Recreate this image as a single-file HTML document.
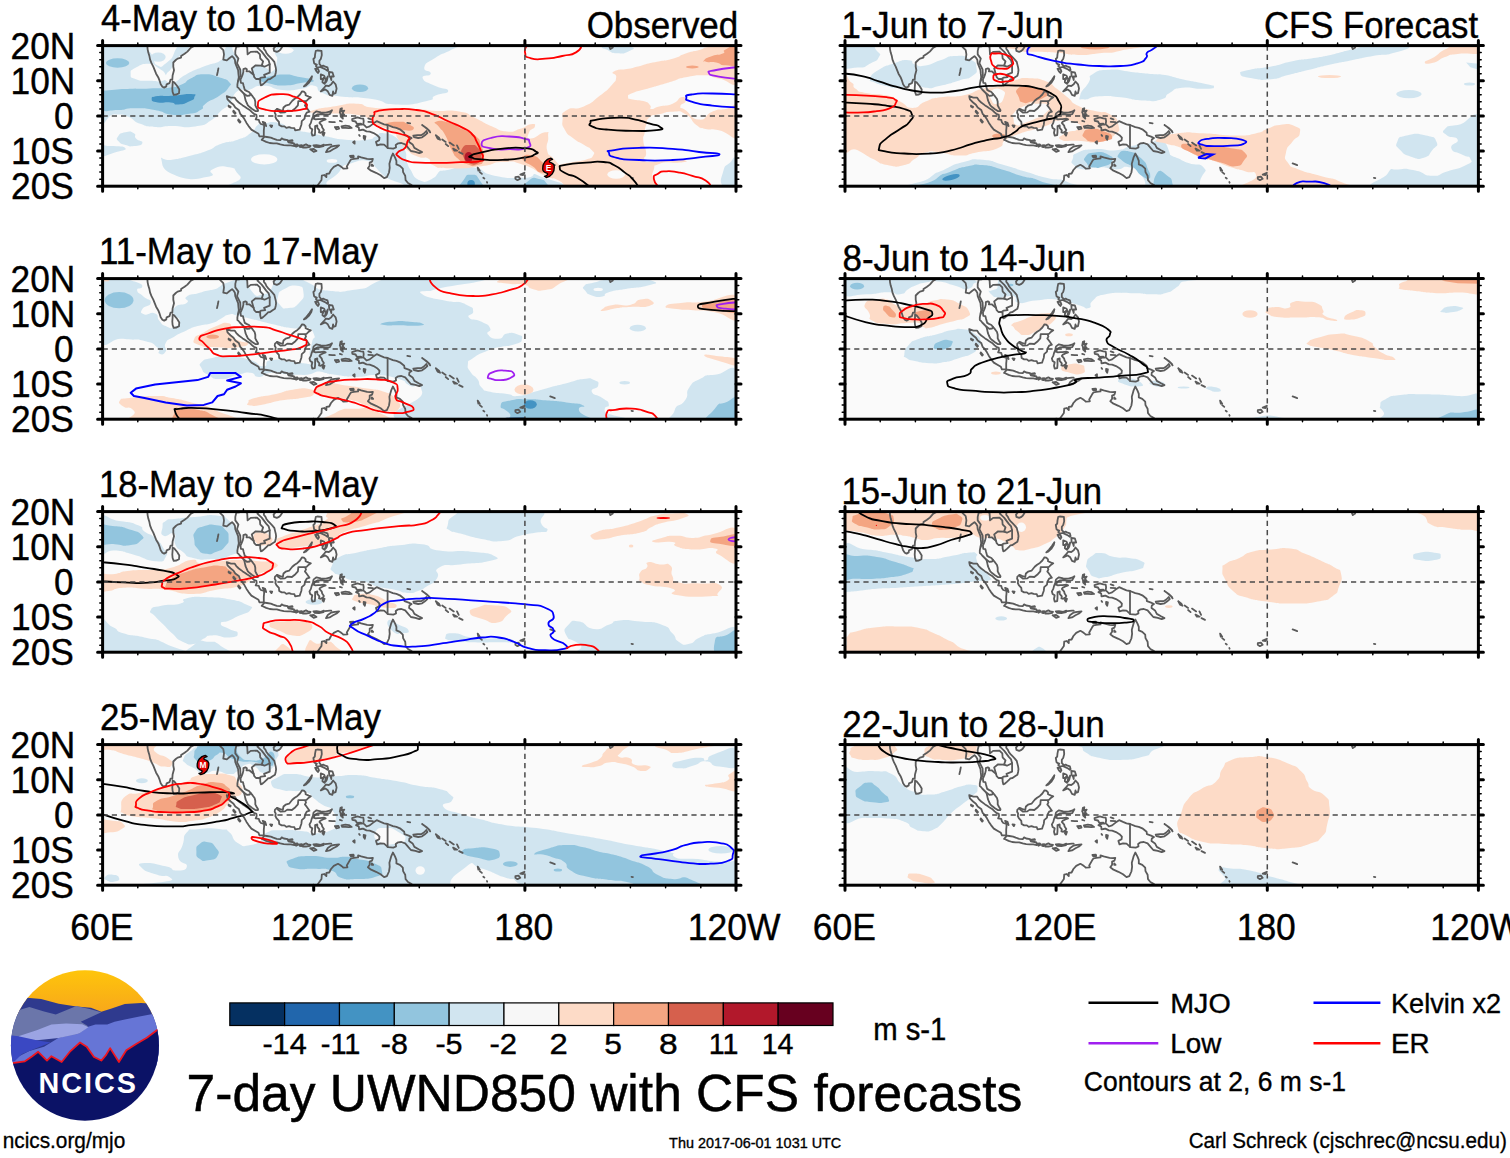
<!DOCTYPE html><html><head><meta charset="utf-8"><title>MJO UWND850</title>
<style>html,body{margin:0;padding:0;background:#fff}svg{display:block}text{font-family:"Liberation Sans",sans-serif;fill:#000}</style></head><body>
<svg width="1510" height="1158" viewBox="0 0 1510 1158">
<defs>
<clipPath id="pc"><rect x="0" y="0" width="633.4" height="140.6"/></clipPath>
<g id="coast" fill="none" stroke="#5a5a5a" stroke-width="1.8" stroke-linejoin="round" stroke-linecap="round">
<polyline points="44.7,-0.7 45.0,3.5 45.7,7.0 46.8,10.5 47.5,14.1 48.9,17.6 50.7,21.1 52.1,24.6 53.5,28.1 55.6,31.6 57.0,35.1 58.1,38.7 59.8,41.1 61.6,42.0 63.7,40.8 64.0,38.7 66.9,37.6 67.9,34.1 69.7,34.1 70.0,29.9 71.4,24.6 70.7,21.1 70.7,16.9 73.2,14.4 75.0,13.0 78.5,12.0 78.5,10.5 82.0,8.1 84.8,6.0 88.3,2.1 92.9,-0.4"/>
<polyline points="70.0,35.9 71.4,36.6 74.6,40.4 76.7,43.9 76.4,47.5 73.9,48.9 71.1,49.2 70.0,46.4 69.7,42.9 70.0,39.0 70.0,35.9"/>
<polyline points="115.8,22.8 115.1,26.4 114.4,29.5"/>
<polyline points="115.8,-0.7 118.2,2.1 120.7,4.6 121.4,8.8 120.7,14.1 124.2,14.8 126.7,12.7 129.5,10.5 130.9,12.0 132.3,14.1 132.7,17.6 134.1,21.1 135.5,24.6 135.8,28.1 136.2,31.6 135.5,35.1 134.8,38.7 134.8,41.5 135.8,42.2 137.2,43.9 139.7,46.4 141.5,48.2 142.2,51.3 142.9,54.5 143.9,56.9 145.3,59.8 147.1,61.5 149.6,63.3 152.7,65.4 155.2,65.6 155.5,64.7 153.8,61.9 152.7,59.8 152.7,56.2 152.0,53.4 149.9,50.6 148.1,48.5 146.4,46.4 143.9,45.3 142.2,44.3 141.1,40.4 140.4,37.6 138.3,37.3 137.9,34.1 139.0,31.6 140.1,28.8 140.8,26.0 140.8,23.6 142.9,22.8 144.3,23.6 143.9,25.7 146.7,25.7 148.8,27.4 151.0,29.2 151.7,31.6 153.4,33.4 155.9,33.4 157.6,33.7 157.6,36.6 158.3,39.7 159.4,39.4 161.9,37.3 164.3,35.1 165.4,33.7 167.5,33.4 170.0,31.6 172.4,30.2 173.1,27.4 173.5,24.6 173.1,21.8 172.4,19.0 171.7,16.2 169.6,13.7 167.5,11.6 165.7,9.8 164.0,7.7 162.9,5.3 161.2,3.2 161.5,0.7 162.9,-0.7"/>
<polyline points="135.8,35.1 137.9,29.9 137.6,23.9 134.4,17.6 135.8,13.0 132.7,8.8 132.7,5.3 133.7,1.1 136.9,0.7 139.0,-0.7"/>
<polyline points="151.0,29.2 149.2,22.8 153.1,19.7 159.1,20.0 160.5,15.8 157.6,12.7 157.3,8.8 154.5,6.0 148.1,6.3 145.0,8.8 144.6,1.8 142.5,-0.7"/>
<polyline points="156.2,33.7 158.7,32.0 162.6,31.6 161.5,29.2 167.1,27.1 167.1,18.6 166.1,14.8 163.6,12.0 159.1,6.0 154.8,2.1 156.9,-0.7"/>
<polyline points="159.1,20.0 161.9,21.1 167.1,18.6"/>
<polyline points="141.1,47.8 144.6,50.3 147.1,49.9 148.1,48.5"/>
<polyline points="171.4,2.5 173.1,0.4 175.9,-0.4 179.1,-0.4 179.5,1.4 177.7,4.2 175.9,5.6 174.2,6.3 171.4,5.3 171.0,2.8 171.4,2.5"/>
<polyline points="124.2,50.6 128.4,52.0 132.0,52.0 133.7,54.5 136.2,56.9 140.1,59.8 142.2,61.2 144.3,62.6 147.1,64.3 149.6,66.8 151.3,68.2 153.8,69.2 154.1,71.4 153.1,73.8 156.2,74.2 156.9,76.6 158.3,78.4 161.5,79.4 161.5,81.9 161.2,85.1 161.2,90.7 159.4,90.7 156.9,90.7 155.9,88.2 152.4,86.1 148.8,84.0 146.0,80.5 143.9,77.3 141.8,73.5 139.7,70.3 137.6,68.2 136.2,64.3 132.7,61.9 130.9,59.1 128.1,56.9 124.9,53.8 124.2,50.6"/>
<polyline points="126.0,60.1 128.1,61.2 127.7,61.9 126.0,60.8 126.0,60.1"/>
<polyline points="130.9,65.0 133.0,67.5 132.3,68.2 130.6,66.1 130.9,65.0"/>
<polyline points="135.8,73.8 137.9,76.3 137.2,77.0 135.5,74.9 135.8,73.8"/>
<polyline points="160.1,76.3 162.6,77.3 163.6,80.5 161.5,79.1 160.1,76.3"/>
<polyline points="167.5,79.8 169.6,80.1 168.9,81.5 167.5,79.8"/>
<polyline points="159.1,94.2 161.9,91.0 164.3,91.4 168.2,92.1 170.7,93.1 174.2,94.2 177.7,94.6 179.1,92.8 181.2,93.9 185.1,94.6 185.8,96.7 189.7,97.4 191.4,97.7 191.8,100.5 188.3,99.8 184.7,99.8 181.2,99.5 177.7,98.8 174.2,97.7 170.7,97.7 167.1,97.4 163.6,96.3 160.1,94.6 159.1,94.2"/>
<polyline points="185.4,95.3 189.7,94.6 190.0,95.3 185.8,95.6"/>
<polyline points="192.1,99.1 194.9,98.8 195.7,100.2 193.5,101.2 192.1,99.1"/>
<polyline points="197.1,99.8 199.2,99.5 198.8,101.6 197.1,101.2 197.1,99.8"/>
<polyline points="199.9,100.2 203.4,98.8 205.2,99.8 208.0,100.2 207.3,101.2 203.4,101.9 200.2,101.9 199.9,100.2"/>
<polyline points="210.8,99.8 213.9,99.5 218.2,100.2 221.3,99.1 221.0,100.5 216.4,101.6 212.2,101.2 210.8,99.8"/>
<polyline points="222.4,99.5 227.0,99.1 228.7,99.1"/>
<polyline points="207.6,103.7 211.1,103.3 213.9,105.4 211.1,106.2 207.6,103.7"/>
<polyline points="223.4,106.5 225.2,103.3 228.7,100.9 232.2,100.2 236.5,99.8 234.0,101.9 230.5,103.7 227.0,105.8 223.4,106.5"/>
<polyline points="250.5,96.7 252.0,95.6 252.0,98.1 250.5,96.7"/>
<polyline points="261.1,90.3 262.9,90.7 262.2,94.2 261.1,92.4 261.1,90.3"/>
<polyline points="256.5,89.3 257.2,90.3"/>
<polyline points="172.4,65.0 174.5,63.3 177.0,64.3 180.2,65.4 180.9,61.9 183.0,60.1 186.5,59.1 189.7,55.2 192.1,53.1 194.9,51.3 197.4,48.9 199.5,45.7 201.3,46.0 203.0,47.8 203.0,49.6 206.2,51.0 208.3,51.7 206.2,53.1 204.4,54.8 202.7,55.9 203.4,58.0 202.3,59.8 204.1,62.2 206.9,66.1 204.1,67.1 202.3,70.3 202.0,73.1 199.2,75.6 198.8,79.1 197.8,81.9 197.1,84.0 192.5,84.7 191.8,82.6 188.6,82.3 186.5,81.5 183.7,82.3 181.9,80.8 179.1,80.8 176.6,79.4 176.3,76.3 173.8,73.5 172.8,71.4 173.1,68.9 172.1,67.1 172.4,65.0"/>
<polyline points="174.5,63.3 174.9,64.7 178.1,67.1 182.3,66.8 184.7,65.0 189.3,65.4 192.8,62.6 195.3,59.8 195.7,55.5 202.3,55.5"/>
<polyline points="211.1,67.8 213.9,65.7 218.2,66.8 223.4,67.1 227.0,66.1 229.4,64.7 227.3,68.5 223.4,69.2 218.2,68.5 214.7,68.9 212.2,70.3 211.1,73.1 212.9,73.8 215.4,73.5 217.5,73.5 221.3,73.1 223.1,73.8 220.3,74.9 217.5,76.3 216.8,77.3 219.2,80.1 219.6,81.9 221.3,84.4 220.3,85.8 218.2,87.2 216.4,86.8 216.8,84.7 214.7,82.3 214.7,79.8 212.5,80.5 212.5,83.3 212.5,86.5 212.2,89.6 209.7,90.0 209.0,87.2 209.7,83.7 207.6,82.3 206.9,79.8 208.3,77.3 209.0,74.5 210.4,71.0 210.8,68.5 211.1,67.8"/>
<polyline points="220.3,86.5 222.0,87.2 221.0,90.0 219.9,88.6 220.3,86.5"/>
<polyline points="237.2,66.8 237.9,63.3 239.3,62.6 238.9,65.7 241.7,65.0 240.0,67.5 241.7,69.2 239.3,68.9 240.3,73.1 238.2,71.0 237.9,68.2 237.2,66.8"/>
<polyline points="232.2,81.5 235.8,81.2 236.5,83.0 233.7,83.7 232.2,81.5"/>
<polyline points="238.9,80.8 242.8,80.1 246.3,80.5 249.1,82.3 246.3,82.6 242.8,82.3 239.6,82.3 238.9,80.8"/>
<polyline points="226.6,76.3 229.8,76.6 232.2,76.6"/>
<polyline points="237.2,75.2 239.3,75.9"/>
<polyline points="213.2,5.3 214.7,4.9 218.9,5.3 219.2,9.5 218.2,13.4 216.8,15.1 216.8,18.3 218.9,20.7 220.6,20.0 222.7,21.1 224.9,21.8 225.6,24.6 224.9,25.3 223.1,23.9 220.3,22.5 217.5,21.4 214.7,22.1 213.2,20.4 214.3,19.0 212.9,18.6 211.5,17.6 210.8,13.4 212.2,12.0 212.5,8.8 213.2,5.3"/>
<polyline points="212.5,23.2 215.4,23.2 216.4,25.7 215.4,27.4 213.9,25.7 212.5,23.2"/>
<polyline points="201.3,40.8 204.1,38.0 206.9,34.4 209.4,30.6 208.7,33.4 206.2,37.3 203.0,40.1 201.3,40.8"/>
<polyline points="218.2,28.8 221.3,29.9 222.0,30.9 220.3,33.4 218.2,33.4 218.2,28.8"/>
<polyline points="219.9,35.1 222.0,32.0 223.4,33.7 222.0,38.3 219.9,36.6 219.9,35.1"/>
<polyline points="223.1,35.1 225.2,30.9 224.2,35.1 223.1,36.9"/>
<polyline points="226.3,26.4 229.8,26.7 231.2,30.9 228.7,30.9 228.7,34.4 228.0,32.0 226.6,30.2 226.3,26.4"/>
<polyline points="218.2,45.7 221.0,42.9 223.1,40.1 226.3,40.4 228.7,38.7 230.5,35.9 233.0,38.7 234.0,42.9 233.0,47.5 230.8,48.2 230.5,45.7 229.8,50.3 227.0,49.2 225.2,45.7 222.7,43.9 219.9,45.0 218.2,45.7"/>
<polyline points="249.5,73.5 254.8,71.7 258.3,72.8 260.7,73.1 261.1,75.6 260.7,78.7 262.2,80.1 263.9,81.9 267.1,80.8 270.6,78.0 274.1,75.6 278.0,77.3 281.5,78.7 285.0,79.4 290.3,81.5 293.8,82.3 297.3,83.7 301.6,87.2 301.9,89.6 306.1,91.0 309.0,92.4 306.8,93.9 306.5,96.3 310.0,98.8 311.8,102.3 316.0,104.7 319.5,106.5 316.7,107.6 312.8,106.2 308.3,105.4 305.8,102.6 302.6,98.8 298.8,97.4 295.6,97.7 293.1,99.5 293.5,101.9 290.7,103.0 285.4,102.6 281.5,99.1 278.0,98.8 274.5,99.8 273.4,96.3 276.6,94.6 276.9,92.1 274.5,89.6 271.0,87.5 267.1,86.1 263.9,85.8 260.4,84.0 258.3,84.4 256.5,84.7 256.2,81.9 253.4,80.5 257.2,79.1 259.3,79.1 258.3,78.0 254.4,78.4 253.0,75.9 249.8,75.2 249.5,73.5"/>
<polyline points="285.0,79.4 285.0,102.3"/>
<polyline points="265.7,72.8 268.5,73.8"/>
<polyline points="265.7,76.3 270.3,76.6"/>
<polyline points="213.9,141.3 216.4,137.8 218.9,134.3 219.2,130.1 221.7,129.4 223.8,131.5 223.8,128.3 226.6,127.9 228.4,124.4 231.2,121.3 235.4,119.2 237.9,120.6 240.0,122.3 240.7,123.0 244.9,122.7 244.2,120.9 247.0,116.0 248.4,113.9 251.2,113.2 255.5,112.8 255.5,110.7 258.6,111.8 264.6,113.2 267.4,113.5 270.3,113.2 269.5,116.0 267.1,117.0 267.1,120.2 265.3,122.7 268.5,125.1 273.4,127.2 278.0,129.7 281.5,132.5 284.3,131.5 286.4,126.9 287.1,122.3 286.8,118.1 287.8,114.6 288.5,112.1 290.3,107.9 292.4,111.8 293.8,115.3 293.8,118.8 297.3,120.2 300.2,123.0 300.5,126.5 302.6,130.1 303.0,134.6 305.4,137.4 309.0,139.5 311.1,141.3"/>
<polyline points="247.4,110.4 250.9,110.0 251.2,111.4 248.4,111.8 247.4,110.4"/>
<polyline points="269.2,118.8 270.6,120.2 269.2,120.2 269.2,118.8"/>
<polyline points="310.7,90.0 314.9,89.6 318.5,89.6 321.3,87.9 323.7,85.4 324.8,87.5 322.0,90.0 319.5,91.7 315.6,92.4 311.4,91.4 310.7,90.0"/>
<polyline points="319.5,79.4 323.7,82.3 326.9,85.4 327.6,86.8 325.8,84.4 322.3,81.5 319.5,79.4"/>
<polyline points="304.7,77.3 307.6,77.7"/>
<polyline points="333.2,89.6 336.4,92.1 337.5,94.2 335.0,93.1 333.2,89.6"/>
<polyline points="339.6,93.9 343.1,96.3"/>
<polyline points="343.1,98.4 345.6,100.5"/>
<polyline points="347.0,97.0 351.2,99.8"/>
<polyline points="350.5,103.0 354.7,105.1 351.9,105.1 350.5,103.0"/>
<polyline points="354.4,99.8 356.1,103.3"/>
<polyline points="356.5,106.5 360.0,108.3"/>
<polyline points="375.1,122.0 377.2,125.1 375.8,125.1 375.1,122.0"/>
<polyline points="377.2,126.5 379.3,128.3"/>
<polyline points="380.7,132.2 381.8,132.9"/>
<polyline points="384.3,136.4 384.6,137.1"/>
<polyline points="412.8,131.5 415.9,131.1 417.7,133.2 414.9,134.6 412.8,133.2 412.8,131.5"/>
<polyline points="417.7,129.0 421.9,127.2 420.5,129.4 417.7,129.0"/>
<polyline points="447.6,117.8 449.7,118.5 452.2,119.5"/>
<polyline points="506.7,0.7 507.8,3.5 510.2,1.8 508.5,-0.7"/>
<polyline points="528.9,132.2 530.3,132.5"/>
</g>
<g id="frame">
<line x1="0" y1="70.3" x2="633.4" y2="70.3" stroke="#4a4a4a" stroke-width="1.5" stroke-dasharray="5.2,4"/>
<line x1="422.3" y1="0" x2="422.3" y2="140.6" stroke="#4a4a4a" stroke-width="1.5" stroke-dasharray="5.2,4"/>
<rect x="0" y="0" width="633.4" height="140.6" fill="none" stroke="#000" stroke-width="3"/>
<path d="M0.0,-5V0 M0.0,140.6V145.6 M211.1,-5V0 M211.1,140.6V145.6 M422.3,-5V0 M422.3,140.6V145.6 M633.4,-5V0 M633.4,140.6V145.6" stroke="#000" stroke-width="3" stroke-linecap="round" fill="none"/>
<path d="M35.2,-2.6V0 M35.2,140.6V143.2 M70.4,-2.6V0 M70.4,140.6V143.2 M105.6,-2.6V0 M105.6,140.6V143.2 M140.8,-2.6V0 M140.8,140.6V143.2 M175.9,-2.6V0 M175.9,140.6V143.2 M246.3,-2.6V0 M246.3,140.6V143.2 M281.5,-2.6V0 M281.5,140.6V143.2 M316.7,-2.6V0 M316.7,140.6V143.2 M351.9,-2.6V0 M351.9,140.6V143.2 M387.1,-2.6V0 M387.1,140.6V143.2 M457.5,-2.6V0 M457.5,140.6V143.2 M492.6,-2.6V0 M492.6,140.6V143.2 M527.8,-2.6V0 M527.8,140.6V143.2 M563.0,-2.6V0 M563.0,140.6V143.2 M598.2,-2.6V0 M598.2,140.6V143.2" stroke="#000" stroke-width="1.5" stroke-linecap="round" fill="none"/>
<path d="M-5,0.0H0 M633.4,0.0H638.4 M-5,35.1H0 M633.4,35.1H638.4 M-5,70.3H0 M633.4,70.3H638.4 M-5,105.4H0 M633.4,105.4H638.4 M-5,140.6H0 M633.4,140.6H638.4" stroke="#000" stroke-width="3" stroke-linecap="round" fill="none"/>
<path d="M-2.8,7.0H0 M633.4,7.0H636.1999999999999 M-2.8,14.1H0 M633.4,14.1H636.1999999999999 M-2.8,21.1H0 M633.4,21.1H636.1999999999999 M-2.8,28.1H0 M633.4,28.1H636.1999999999999 M-2.8,42.2H0 M633.4,42.2H636.1999999999999 M-2.8,49.2H0 M633.4,49.2H636.1999999999999 M-2.8,56.2H0 M633.4,56.2H636.1999999999999 M-2.8,63.3H0 M633.4,63.3H636.1999999999999 M-2.8,77.3H0 M633.4,77.3H636.1999999999999 M-2.8,84.4H0 M633.4,84.4H636.1999999999999 M-2.8,91.4H0 M633.4,91.4H636.1999999999999 M-2.8,98.4H0 M633.4,98.4H636.1999999999999 M-2.8,112.5H0 M633.4,112.5H636.1999999999999 M-2.8,119.5H0 M633.4,119.5H636.1999999999999 M-2.8,126.5H0 M633.4,126.5H636.1999999999999 M-2.8,133.6H0 M633.4,133.6H636.1999999999999" stroke="#000" stroke-width="1.5" stroke-linecap="round" fill="none"/>
</g>
</defs>
<rect width="1510" height="1158" fill="#fff"/>
<g transform="translate(102.6,45.6)">
<g clip-path="url(#pc)"><rect x="0" y="0" width="633.4" height="140.6" fill="#fafafa"/>
<path d="M-4.7,-5.5C67.3,-29.9 88.5,-5.5 211.4,-5.5C334.3,-5.5 314.6,-6.9 364.0,-5.5C413.5,-4.1 365.4,-4.8 359.8,-1.3C354.1,2.3 356.0,0.6 347.0,5.1C338.1,9.5 341.3,6.7 332.9,12.1C324.4,17.5 323.4,16.1 321.8,21.4C320.3,26.7 328.8,24.2 328.2,28.0C327.6,31.7 318.6,28.5 320.1,32.6C321.7,36.8 324.4,36.2 332.9,40.5C341.3,44.7 345.6,42.2 345.6,45.4C345.6,48.5 340.3,46.6 332.9,50.0C325.4,53.5 336.6,52.8 323.3,55.7C310.0,58.7 311.0,59.7 293.0,58.9C275.0,58.1 287.8,56.1 269.3,53.4C250.8,50.7 253.9,52.8 237.5,50.9C221.0,48.9 228.6,51.1 219.9,47.5C211.2,43.9 218.5,41.5 211.4,40.1C204.4,38.7 209.3,41.8 198.7,43.2C188.1,44.7 192.3,45.4 179.6,44.3C166.9,43.2 171.9,40.1 160.6,40.1C149.3,40.1 154.2,42.5 145.7,44.3C137.2,46.1 141.5,40.8 135.1,45.4C128.8,50.0 132.3,51.4 126.7,58.1C121.0,64.8 123.8,60.2 118.2,65.5C112.5,70.8 118.2,68.8 109.7,74.0C101.2,79.1 106.2,78.8 92.7,81.0C79.3,83.1 82.9,80.2 69.4,80.3C56.0,80.5 63.1,82.1 52.5,81.4C41.9,80.7 46.8,81.7 37.6,78.2C28.5,74.7 33.4,74.0 24.9,70.8C16.5,67.6 22.1,69.7 12.2,68.7C2.3,67.6 0.9,92.3 -4.7,67.6C-10.4,42.9 -76.8,18.9 -4.7,-5.5Z" fill="#d1e5f0"/>
<path d="M28.1,28.4C28.1,24.5 27.4,25.4 33.4,22.0C39.4,18.7 38.9,18.2 46.1,18.2C53.3,18.2 49.4,18.3 55.0,22.0C60.7,25.8 61.1,25.2 63.1,29.5C65.1,33.7 66.6,32.9 61.0,34.8C55.3,36.7 55.3,35.5 46.1,35.2C36.9,34.8 39.4,36.0 33.4,33.7C27.4,31.4 28.1,32.3 28.1,28.4Z" fill="#fafafa"/>
<path d="M63.1,30.5C64.5,25.7 66.3,27.3 69.4,22.0C72.6,16.8 67.7,20.3 72.6,14.6C77.6,9.0 77.9,11.1 84.3,5.1C90.6,-0.9 80.4,-0.6 91.7,-3.4C103.0,-6.2 108.3,-6.9 118.2,-3.4C128.1,0.2 121.4,1.2 121.4,7.2C121.4,13.2 124.9,10.0 118.2,14.6C111.5,19.2 112.5,16.4 101.2,21.0C89.9,25.6 94.2,23.1 84.3,28.4C74.4,33.7 77.9,34.2 71.6,36.9C65.2,39.6 68.0,38.6 65.2,36.5C62.4,34.3 61.7,35.3 63.1,30.5Z" fill="#fafafa"/>
<path d="M135.1,-3.4C146.4,-9.7 156.7,-6.9 169.0,-3.4C181.4,0.2 170.4,0.9 172.2,7.2C174.0,13.6 175.4,9.3 174.3,15.7C173.3,22.0 172.9,24.2 169.0,26.3C165.2,28.4 168.3,24.2 162.7,22.0C157.0,19.9 157.0,18.5 152.1,19.9C147.1,21.3 152.1,24.9 147.8,26.3C143.6,27.7 143.6,27.7 139.4,24.2C135.1,20.6 136.5,24.9 135.1,15.7C133.7,6.5 123.8,3.0 135.1,-3.4Z" fill="#fafafa"/>
<ellipse cx="182.8" cy="4.7" rx="8.1" ry="3.4" fill="#fafafa"/>
<path d="M47.2,-1.3C53.5,-5.5 61.3,-4.1 69.4,-1.3C77.6,1.6 73.7,0.9 71.6,7.2C69.4,13.6 68.6,13.6 63.1,17.8C57.6,22.0 59.3,22.0 55.0,19.9C50.8,17.8 53.0,18.5 50.4,11.5C47.7,4.4 40.8,3.0 47.2,-1.3Z" fill="#fafafa"/>
<ellipse cx="55.7" cy="11.5" rx="7.4" ry="4.7" fill="#d1e5f0"/>
<path d="M-2.6,48.5C1.3,42.5 -7.6,46.3 9.0,44.5C25.6,42.7 28.1,43.8 47.2,43.0C66.3,42.3 55.7,43.5 66.3,42.2C76.9,40.8 71.6,42.2 79.0,39.0C86.4,35.8 81.1,36.1 88.5,32.6C95.9,29.2 91.7,28.9 101.2,28.6C110.8,28.3 108.6,29.1 117.1,31.8C125.6,34.5 123.8,33.2 126.7,36.7C129.5,40.1 129.0,37.7 125.8,42.2C122.6,46.6 124.7,44.7 117.1,50.0C109.5,55.3 109.3,53.3 102.9,58.1C96.6,62.9 103.9,61.0 98.0,64.4C92.2,67.9 94.9,66.9 85.3,68.5C75.8,70.0 80.5,70.4 69.4,69.1C58.3,67.8 64.8,66.6 52.1,64.4C39.3,62.3 43.5,62.7 31.3,62.7C19.1,62.7 26.7,64.4 15.4,64.4C4.1,64.4 3.4,68.0 -2.6,62.7C-8.6,57.4 -6.5,54.6 -2.6,48.5Z" fill="#92c5de"/>
<ellipse cx="15.0" cy="17.4" rx="11.7" ry="4.7" fill="#92c5de"/>
<path d="M156.1,33.7C155.6,31.3 157.7,32.5 166.5,31.0C175.3,29.4 172.9,29.0 182.4,29.0C191.9,29.1 185.6,29.2 195.1,31.2C204.6,33.1 209.9,32.9 211.0,35.0C212.1,37.1 207.8,35.9 198.3,37.5C188.7,39.1 192.5,39.6 182.4,39.9C172.3,40.1 176.7,40.2 168.0,38.2C159.2,36.1 156.6,36.1 156.1,33.7Z" fill="#92c5de"/>
<ellipse cx="257.4" cy="42.6" rx="8.1" ry="3.8" fill="#92c5de"/>
<path d="M49.1,53.4C49.1,51.3 48.5,51.5 55.2,50.4C62.0,49.4 58.3,50.9 69.4,50.2C80.5,49.6 81.1,48.0 88.5,48.5C95.9,49.0 92.2,49.3 91.7,51.7C91.2,54.1 92.3,53.3 87.0,55.7C81.7,58.1 82.1,58.6 75.8,58.9C69.4,59.3 74.8,57.5 68.0,56.8C61.1,56.1 61.5,57.9 55.2,56.8C48.9,55.7 49.1,55.5 49.1,53.4Z" fill="#4393c3"/>
<path d="M-2.6,101.5C0.9,98.3 -0.5,100.1 8.0,100.5C16.5,100.8 21.4,100.5 22.8,102.6C24.2,104.7 20.7,104.3 12.2,106.8C3.7,109.3 2.3,111.8 -2.6,110.0C-7.6,108.2 -6.2,104.7 -2.6,101.5Z" fill="#d1e5f0"/>
<path d="M15.4,90.9C17.5,87.7 17.5,87.7 22.8,86.7C28.1,85.6 27.8,85.6 31.3,87.7C34.8,89.9 30.6,89.9 33.4,93.0C36.2,96.2 40.5,94.8 39.8,97.3C39.1,99.8 36.9,99.8 31.3,100.5C25.6,101.2 27.8,100.8 22.8,99.4C17.9,98.0 18.9,99.0 16.5,96.2C14.0,93.4 13.3,94.1 15.4,90.9Z" fill="#d1e5f0"/>
<path d="M58.8,114.2C57.4,108.9 59.5,115.6 69.4,114.2C79.3,112.8 76.5,113.2 88.5,110.0C100.5,106.8 95.6,108.6 105.5,104.7C115.3,100.8 108.3,101.9 118.2,98.3C128.1,94.8 125.2,97.6 135.1,94.1C145.0,90.6 141.1,92.7 147.8,87.7C154.6,82.8 151.0,82.4 155.3,79.3C159.5,76.1 153.8,78.9 160.6,78.2C167.3,77.5 165.5,75.4 175.4,77.1C185.3,78.9 178.9,80.0 190.2,83.5C201.5,87.0 198.0,85.3 209.3,87.7C220.6,90.2 212.8,88.8 224.1,90.9C235.4,93.0 229.8,93.0 243.2,94.1C256.6,95.2 254.5,95.2 264.4,94.1C274.3,93.0 267.2,93.0 272.9,90.9C278.5,88.8 273.6,86.7 281.4,87.7C289.1,88.8 289.1,88.5 296.2,94.1C303.3,99.8 299.7,96.9 302.5,104.7C305.4,112.5 301.8,108.9 304.7,117.4C307.5,125.9 306.8,120.2 311.0,130.1C315.3,140.0 370.4,141.4 317.4,147.1C264.4,152.7 212.1,152.7 152.1,147.1C92.0,141.4 145.7,138.6 137.2,130.1C128.8,121.7 135.8,123.8 126.7,121.7C117.5,119.5 116.8,120.6 109.7,123.8C102.6,127.0 117.5,129.1 105.5,131.2C93.5,133.3 89.2,135.8 73.7,130.1C58.1,124.5 60.3,119.5 58.8,114.2Z" fill="#d1e5f0"/>
<ellipse cx="161.6" cy="113.8" rx="13.1" ry="5.1" fill="#fafafa"/>
<path d="M232.6,142.8C212.8,137.2 231.2,134.4 236.9,125.9C242.5,117.4 239.7,120.8 249.6,117.4C259.5,114.0 258.7,114.3 266.5,115.7C274.3,117.1 267.9,116.8 272.9,121.7C277.8,126.5 273.6,123.1 281.4,130.1C289.1,137.2 312.4,138.6 296.2,142.8C279.9,147.1 252.4,148.5 232.6,142.8Z" fill="#fafafa"/>
<ellipse cx="229.4" cy="115.3" rx="5.3" ry="1.9" fill="#fafafa"/>
<path d="M330.3,147.1C291.1,141.4 327.8,137.9 333.5,130.1C339.1,122.4 334.9,126.6 347.3,123.8C359.6,120.9 355.7,119.5 370.6,121.7C385.4,123.8 374.8,126.6 391.8,130.1C408.7,133.7 406.6,132.2 421.4,132.2C436.3,132.2 426.4,125.2 436.3,130.1C446.2,135.1 486.4,141.4 451.1,147.1C415.8,152.7 369.5,152.7 330.3,147.1Z" fill="#d1e5f0"/>
<path d="M356.8,147.1C350.8,142.8 357.2,140.4 361.0,134.4C364.9,128.4 363.2,129.1 368.5,129.1C373.8,129.1 373.4,128.4 376.9,134.4C380.5,140.4 385.8,142.8 379.0,147.1C372.3,151.3 362.8,151.3 356.8,147.1Z" fill="#92c5de"/>
<path d="M419.3,147.1C412.3,143.2 420.0,140.0 425.7,135.4C431.3,130.8 429.9,132.2 436.3,133.3C442.6,134.4 441.2,134.0 444.7,138.6C448.3,143.2 455.3,144.3 446.9,147.1C438.4,149.9 426.4,151.0 419.3,147.1Z" fill="#92c5de"/>
<ellipse cx="368.5" cy="138.2" rx="3.8" ry="3.8" fill="#4393c3"/>
<path d="M502.0,0.9C494.9,2.3 502.0,2.8 506.2,5.1C510.4,7.4 508.3,7.3 514.7,7.6C521.0,8.0 521.0,8.4 525.3,6.2C529.5,3.9 535.2,2.6 527.4,0.9C519.6,-0.9 509.0,-0.6 502.0,0.9Z" fill="#d1e5f0"/>
<path d="M620.6,140.7C616.4,135.8 618.5,133.7 620.6,125.9C622.8,118.1 622.8,120.9 627.0,117.4C631.2,113.9 631.2,107.5 633.4,115.3C635.5,123.1 637.6,132.2 633.4,140.7C629.1,149.2 624.9,145.7 620.6,140.7Z" fill="#d1e5f0"/>
<path d="M211.4,64.4C218.5,62.2 218.5,62.7 232.6,60.6C246.7,58.5 241.6,57.7 253.8,58.1C266.0,58.5 256.2,60.3 269.3,61.9C282.3,63.4 277.1,62.2 293.0,62.7C308.9,63.3 303.7,62.7 317.0,63.6C330.2,64.4 319.6,64.5 332.9,65.3C346.1,66.1 343.4,63.6 356.6,65.9C369.8,68.2 361.9,67.5 372.5,72.3C383.1,77.1 377.8,75.8 388.4,80.3C399.0,84.8 394.7,84.8 404.3,85.8C413.8,86.9 409.0,85.9 417.0,83.5C425.0,81.1 423.1,79.4 428.2,78.6C433.3,77.9 432.8,78.5 432.2,81.2C431.7,83.9 427.9,82.7 426.5,86.7C425.2,90.6 422.9,93.0 428.2,93.0C433.5,93.0 436.6,87.3 442.4,86.7C448.2,86.1 444.9,85.3 445.6,91.3C446.3,97.4 442.7,97.4 444.5,104.7C446.4,112.0 445.5,106.8 451.1,113.2C456.8,119.5 454.5,117.4 461.5,123.8C468.5,130.1 470.7,126.6 472.1,132.2C473.5,137.9 471.4,140.0 465.7,140.7C460.1,141.4 462.9,137.9 455.1,134.4C447.4,130.8 453.7,135.1 442.4,130.1C431.1,125.2 435.3,124.1 421.2,119.5C407.1,114.9 414.2,116.0 400.0,116.4C385.9,116.7 396.5,118.5 378.8,120.6C361.2,122.7 363.3,123.1 347.0,122.7C330.8,122.4 337.2,122.7 330.1,119.5C323.0,116.4 330.7,116.0 325.9,113.2C321.0,110.3 322.5,113.9 315.5,111.1C308.4,108.2 311.1,110.3 304.7,104.7C298.2,99.0 301.1,100.5 296.2,94.1C291.2,87.7 296.9,90.6 289.8,85.6C282.8,80.7 282.8,83.5 275.0,79.3C267.2,75.0 273.6,76.3 266.5,72.9C259.5,69.5 265.1,70.7 253.8,69.1C242.5,67.5 246.7,68.6 232.6,68.0C218.5,67.5 218.5,68.6 211.4,67.4C204.4,66.2 204.4,66.7 211.4,64.4Z" fill="#fddbc7"/>
<path d="M283.5,78.2C285.6,76.4 289.1,76.1 296.2,76.1C303.3,76.1 299.7,75.7 304.7,78.2C309.6,80.7 312.4,81.4 311.0,83.5C309.6,85.6 307.5,85.3 300.4,84.6C293.4,83.9 295.5,83.5 289.8,81.4C284.2,79.3 281.4,80.0 283.5,78.2Z" fill="#f4a582"/>
<path d="M333.3,76.1C336.8,74.7 338.2,74.7 347.0,77.1C355.9,79.6 351.3,79.3 359.8,83.5C368.2,87.7 366.1,84.2 372.5,89.9C378.8,95.5 376.0,92.7 378.8,100.5C381.7,108.2 382.4,106.8 381.0,113.2C379.5,119.5 380.3,117.8 374.6,119.5C368.9,121.3 370.4,120.6 364.0,118.5C357.6,116.4 360.5,117.8 355.5,113.2C350.6,108.6 353.4,112.5 349.2,104.7C344.9,96.9 347.0,97.6 342.8,89.9C338.6,82.1 339.6,86.0 336.5,81.4C333.3,76.8 329.7,77.5 333.3,76.1Z" fill="#f4a582"/>
<path d="M420.4,110.6C423.2,108.9 423.9,108.4 429.9,110.0C435.9,111.6 433.4,110.7 438.4,115.3C443.3,119.9 444.7,119.9 444.7,123.8C444.7,127.7 443.3,128.0 438.4,127.0C433.4,125.9 435.6,124.5 429.9,120.6C424.3,116.7 424.6,118.6 421.4,115.3C418.3,112.0 417.5,112.4 420.4,110.6Z" fill="#f4a582"/>
<path d="M359.8,102.6C362.2,98.7 362.9,99.4 368.2,99.4C373.5,99.4 372.1,99.0 375.7,102.6C379.2,106.1 378.8,105.1 378.8,110.0C378.8,114.9 379.9,114.9 375.7,117.4C371.4,119.9 371.1,119.5 366.1,117.4C361.2,115.3 362.9,116.0 360.8,111.1C358.7,106.1 357.3,106.5 359.8,102.6Z" fill="#d6604d"/>
<ellipse cx="366.1" cy="111.5" rx="4.2" ry="5.1" fill="#b2182b"/>
<path d="M460.0,74.0C460.5,67.3 457.0,69.0 464.0,64.6C471.1,60.3 470.2,65.6 481.2,60.8C492.2,56.0 487.8,57.3 497.1,50.2C506.3,43.2 503.4,45.9 509.0,39.6C514.5,33.4 512.7,36.2 513.6,31.6C514.5,26.9 506.2,28.8 511.7,25.7C517.2,22.5 517.4,25.2 530.1,22.3C542.9,19.4 536.8,20.0 550.1,17.0C563.3,13.9 559.0,16.2 570.0,13.1C581.0,10.1 574.3,10.7 583.1,7.9C592.0,5.0 587.7,6.8 596.5,4.5C605.3,2.1 595.9,2.8 609.6,0.9C623.3,-1.0 628.3,-12.4 637.6,-1.3C646.9,9.9 644.7,23.0 637.6,34.3C630.5,45.7 627.7,34.4 616.2,32.9C604.7,31.3 614.1,30.1 603.0,29.7C592.0,29.3 594.1,29.6 583.1,31.6C572.1,33.6 578.8,32.9 570.0,35.6C561.2,38.3 565.5,37.0 556.6,39.6C547.8,42.3 552.3,40.8 543.5,43.5C534.7,46.1 536.2,44.8 530.1,47.5C524.1,50.2 525.5,49.3 525.5,51.5C525.5,53.7 525.1,52.7 530.1,54.0C535.2,55.4 535.0,53.8 540.7,55.5C546.5,57.3 544.6,56.7 547.3,59.3C550.0,62.0 545.7,62.9 548.8,63.4C551.9,63.9 549.6,62.6 556.6,60.8C563.7,59.1 562.5,61.2 570.0,58.1C577.5,55.0 574.7,52.4 579.1,51.5C583.5,50.7 583.6,52.4 583.1,55.5C582.7,58.6 577.8,57.8 577.8,60.8C577.8,63.9 576.9,60.3 583.1,64.6C589.3,69.0 587.7,73.5 596.5,74.0C605.3,74.5 600.8,69.7 609.6,66.1C618.4,62.6 613.6,64.7 623.0,63.4C632.3,62.0 632.7,53.3 637.6,62.1C642.5,70.9 644.7,82.4 637.6,89.9C630.5,97.4 627.7,86.8 616.2,84.6C604.7,82.4 610.5,85.1 603.0,83.3C595.6,81.5 600.4,84.1 593.7,79.3C587.1,74.4 591.0,73.1 583.1,68.7C575.2,64.3 578.8,66.1 570.0,66.1C561.2,66.1 564.2,66.9 556.6,68.7C549.1,70.4 551.7,67.9 547.3,71.4C542.9,75.0 545.3,74.0 543.5,79.3C541.7,84.6 542.9,82.0 542.0,87.3C541.1,92.6 540.3,88.6 540.7,95.2C541.2,101.7 543.1,100.8 543.5,107.0C543.9,113.2 539.8,110.7 542.0,113.8C544.2,116.9 540.7,116.4 550.1,116.4C559.4,116.4 559.0,114.2 570.0,113.8C581.0,113.4 580.9,114.0 583.1,115.1C585.3,116.1 585.4,115.9 576.6,117.0C567.7,118.0 565.5,114.9 556.6,118.3C547.8,121.6 554.4,117.3 550.1,127.0C545.7,136.6 567.8,140.4 543.5,147.1C519.2,153.8 503.7,152.0 477.2,147.1C450.7,142.1 470.7,139.0 464.0,132.2C457.4,125.5 461.7,130.5 457.2,127.0C452.8,123.4 450.7,124.3 450.7,121.7C450.7,119.0 450.6,120.9 457.2,119.1C463.9,117.3 461.8,118.1 470.6,116.4C479.4,114.6 477.1,116.0 483.7,113.8C490.4,111.6 488.8,112.9 490.5,109.8C492.3,106.7 492.1,108.0 489.0,104.5C485.9,101.0 487.3,103.1 481.2,99.2C475.0,95.2 476.8,97.5 470.6,92.6C464.4,87.7 466.1,90.8 462.5,84.6C459.0,78.3 459.5,80.6 460.0,74.0Z" fill="#fddbc7"/>
<ellipse cx="513.6" cy="128.9" rx="8.9" ry="4.2" fill="#fafafa"/>
<path d="M601.8,14.4C603.5,12.4 603.5,12.6 609.6,10.4C615.8,8.2 615.8,10.0 620.2,7.9C624.7,5.7 617.9,6.2 623.0,3.8C628.1,1.5 631.3,-3.5 635.5,0.9C639.6,5.2 639.6,10.7 635.5,17.0C631.3,23.3 630.2,19.7 623.0,19.7C615.7,19.7 619.9,18.1 613.6,17.0C607.4,15.8 608.3,17.2 604.3,16.3C600.4,15.5 600.0,16.4 601.8,14.4Z" fill="#f4a582"/>
<ellipse cx="589.7" cy="21.4" rx="6.4" ry="1.5" fill="#f4a582"/>
<use href="#coast"/>
<path d="M424.6,-1.3C423.9,1.6 421.4,2.6 422.5,7.2C423.6,11.8 421.1,10.5 427.8,12.5C434.5,14.5 432.0,13.9 442.6,13.1C453.2,12.4 449.3,12.5 459.6,10.4C469.8,8.3 466.6,10.7 473.4,6.8C480.1,2.9 477.6,1.4 479.7,-1.3" fill="none" stroke="#ff0000" stroke-width="1.8"/>
<path d="M635.5,21.4C628.2,22.4 623.3,22.3 613.6,24.4C604.0,26.4 605.6,25.4 606.4,27.6C607.3,29.7 606.5,29.0 616.2,31.0C625.9,32.9 629.0,32.6 635.5,33.5" fill="none" stroke="#a020f0" stroke-width="1.8"/>
<path d="M635.5,48.8C626.9,48.5 624.9,47.9 609.6,47.9C594.4,47.9 598.3,47.3 589.7,48.8C581.1,50.2 583.8,49.7 583.8,52.1C583.8,54.6 581.1,53.6 589.7,56.2C598.3,58.8 594.4,58.1 609.6,60.0C624.9,61.9 626.9,61.3 635.5,61.9" fill="none" stroke="#0000ff" stroke-width="1.8"/>
<path d="M487.8,77.4C489.0,75.0 484.6,75.7 494.3,74.0C504.1,72.2 504.2,72.1 517.0,72.1C529.9,72.1 522.8,72.0 532.9,74.0C543.0,75.9 539.2,75.6 547.3,78.0C555.4,80.4 555.0,79.0 557.3,81.2C559.5,83.4 563.1,83.2 554.1,84.6C545.1,85.9 547.0,85.4 530.1,85.2C513.3,85.0 516.9,85.3 503.7,83.9C490.4,82.6 495.8,83.4 490.5,81.2C485.2,79.0 486.5,79.8 487.8,77.4Z" fill="none" stroke="#000" stroke-width="1.8"/>
<path d="M506.4,107.0C505.6,104.4 501.6,106.1 511.7,104.5C521.8,102.9 517.3,102.6 536.7,102.2C556.1,101.7 550.1,101.8 570.0,103.2C589.9,104.6 580.8,104.6 596.5,106.4C612.2,108.2 617.0,107.0 617.0,108.7C617.0,110.5 612.2,109.8 596.5,111.7C580.8,113.6 589.9,113.5 570.0,114.4C550.1,115.4 555.3,115.2 536.7,114.4C518.1,113.7 524.4,114.8 514.3,112.3C504.2,109.9 507.3,109.6 506.4,107.0Z" fill="none" stroke="#0000ff" stroke-width="1.8"/>
<path d="M489.2,142.8C484.4,139.3 483.0,137.1 474.6,132.2C466.2,127.4 469.8,131.5 464.0,128.2C458.2,124.9 457.2,125.3 457.2,122.3C457.2,119.3 455.2,120.9 464.0,119.1C472.9,117.3 471.4,117.9 483.7,117.0C496.1,116.1 491.8,115.4 501.1,116.4C510.4,117.3 504.6,116.2 511.7,119.7C518.8,123.3 516.2,122.4 522.3,127.0C528.5,131.5 525.3,128.2 530.1,133.5C535.0,138.8 534.7,139.7 536.9,142.8" fill="none" stroke="#000" stroke-width="1.8"/>
<path d="M557.1,142.8C555.2,139.7 551.9,138.4 551.3,133.5C550.8,128.6 551.4,130.8 555.4,128.2C559.3,125.6 556.1,126.1 563.2,125.7C570.3,125.3 567.7,125.4 576.6,127.0C585.4,128.5 580.9,127.7 589.7,130.3C598.5,133.0 596.6,130.8 603.0,135.0C609.5,139.2 607.0,140.2 609.0,142.8" fill="none" stroke="#ff0000" stroke-width="1.8"/>
<path d="M271.6,69.3C273.4,65.8 268.4,67.2 275.6,65.3C282.8,63.4 280.5,63.9 293.2,63.6C305.9,63.3 301.6,62.8 313.8,64.4C325.9,66.1 319.1,64.7 329.7,68.5C340.3,72.2 335.5,71.1 345.6,75.7C355.6,80.2 351.9,77.8 359.8,82.0C367.7,86.3 364.5,83.6 369.3,88.4C374.1,93.1 371.0,90.1 374.2,96.2C377.4,102.3 376.9,101.3 378.8,106.6C380.8,111.9 380.8,109.1 380.1,112.1C379.4,115.2 384.2,114.2 376.7,115.7C369.2,117.2 371.1,116.1 357.6,116.6C344.2,117.1 349.9,117.1 336.5,117.2C323.0,117.3 328.0,117.6 317.4,117.0C306.8,116.4 311.7,117.3 304.7,115.3C297.6,113.3 299.4,113.9 296.2,111.1C293.0,108.2 293.0,109.8 295.1,106.8C297.2,103.9 299.4,105.7 302.5,102.2C305.7,98.6 303.5,99.8 304.7,96.2C305.8,92.7 308.2,94.2 305.9,91.6C303.7,88.9 304.8,90.5 297.9,88.4C291.0,86.3 293.1,87.9 285.2,85.2C277.3,82.5 279.2,83.5 274.1,80.3C269.1,77.1 271.0,79.3 270.1,75.7C269.3,72.0 269.8,72.8 271.6,69.3Z" fill="none" stroke="#ff0000" stroke-width="1.8"/>
<path d="M379.0,98.3C379.0,94.7 380.5,94.5 389.6,92.0C398.8,89.5 396.0,90.6 406.6,90.9C417.2,91.3 414.7,91.3 421.4,93.0C428.1,94.8 426.0,93.0 426.7,96.2C427.4,99.4 430.3,100.1 423.6,102.6C416.8,105.1 417.9,103.5 406.6,103.6C395.3,103.8 398.8,104.8 389.6,103.0C380.5,101.2 379.0,102.0 379.0,98.3Z" fill="none" stroke="#a020f0" stroke-width="1.8"/>
<path d="M368.5,110.0C371.6,108.2 368.5,109.1 379.0,106.8C389.6,104.5 386.1,104.4 400.2,103.0C414.4,101.6 410.5,101.7 421.4,102.6C432.4,103.5 429.6,103.6 433.1,105.8C436.6,107.9 435.9,106.8 432.0,108.9C428.1,111.1 432.0,110.3 421.4,112.1C410.8,113.9 414.4,113.7 400.2,114.2C386.1,114.8 389.3,114.5 379.0,113.8C368.8,113.1 373.0,113.4 369.5,112.1C366.0,110.8 365.3,111.8 368.5,110.0Z" fill="none" stroke="#000" stroke-width="1.8"/>
<path d="M155.3,59.1C155.3,55.0 155.3,55.3 162.7,51.7C170.1,48.2 168.3,48.9 177.5,48.5C186.7,48.2 182.5,48.2 190.2,50.7C198.0,53.1 196.2,52.4 200.8,56.0C205.4,59.5 204.7,58.6 204.0,61.3C203.3,63.9 206.8,62.6 198.7,64.0C190.6,65.4 191.6,65.5 179.6,65.5C167.6,65.5 170.8,66.1 162.7,64.0C154.6,61.9 155.3,63.2 155.3,59.1Z" fill="none" stroke="#ff0000" stroke-width="1.8"/>
</g>
<use href="#frame"/>
</g>
<g transform="translate(102.6,278.6)">
<g clip-path="url(#pc)"><rect x="0" y="0" width="633.4" height="140.6" fill="#fafafa"/>
<path d="M-4.7,-5.5C109.7,-26.0 228.3,-12.2 338.6,-5.5C448.8,1.2 323.2,5.8 326.1,14.6C329.0,23.5 334.5,17.1 347.3,21.0C360.0,24.9 356.4,22.4 364.2,26.3C372.0,30.2 369.9,28.4 370.6,32.6C371.3,36.9 363.5,35.5 366.3,39.0C369.2,42.5 372.0,39.7 379.0,43.2C386.1,46.8 385.4,45.4 387.5,49.6C389.6,53.8 382.6,52.4 385.4,56.0C388.2,59.5 389.6,60.5 396.0,60.2C402.4,59.8 398.1,56.3 404.5,54.9C410.8,53.5 410.1,54.2 415.1,56.0C420.0,57.7 420.0,57.0 419.3,60.2C418.6,63.4 420.7,62.7 413.0,65.5C405.2,68.3 405.2,66.6 396.0,68.7C386.8,70.8 393.9,68.3 385.4,71.9C376.9,75.4 377.3,74.7 370.6,79.3C363.9,83.9 366.0,80.7 365.3,85.6C364.6,90.6 365.3,89.2 368.5,94.1C371.6,99.0 371.3,95.5 374.8,100.5C378.3,105.4 374.8,104.7 379.0,108.9C383.3,113.2 379.0,111.1 387.5,113.2C396.0,115.3 395.3,113.9 404.5,115.3C413.7,116.7 405.9,118.1 415.1,117.4C424.3,116.7 421.4,116.0 432.0,113.2C442.6,110.3 436.3,111.8 446.9,108.9C457.5,106.1 452.5,107.5 463.8,104.7C475.1,101.9 471.6,101.5 480.8,100.5C490.0,99.4 486.4,99.4 491.4,101.5C496.3,103.6 496.3,102.9 495.6,106.8C494.9,110.7 487.8,108.9 489.2,113.2C490.7,117.4 494.2,115.3 499.8,119.5C505.5,123.8 505.5,121.7 506.2,125.9C506.9,130.1 502.0,125.2 502.0,132.2C502.0,139.3 567.7,142.1 506.2,147.1C444.7,152.0 379.6,158.4 317.4,147.1C255.1,135.8 323.0,126.6 319.5,113.2C316.0,99.8 314.6,111.1 306.8,106.8C299.0,102.6 306.8,103.9 296.2,100.5C285.6,97.1 289.1,97.4 275.0,96.6C260.9,95.9 267.9,98.5 253.8,98.3C239.7,98.2 243.2,97.6 232.6,96.2C222.0,94.8 229.1,96.2 222.0,94.1C215.0,92.0 216.4,94.8 211.4,89.9C206.5,84.9 207.9,87.7 207.2,79.3C206.5,70.8 207.9,72.2 209.3,64.4C210.7,56.7 213.5,61.3 211.4,56.0C209.3,50.7 210.0,50.7 202.9,48.5C195.9,46.4 201.5,50.7 190.2,49.6C178.9,48.5 183.2,48.5 169.0,45.4C154.9,42.2 159.1,42.9 147.8,40.1C136.5,37.2 142.2,38.3 135.1,36.9C128.1,35.5 132.3,34.8 126.7,35.8C121.0,36.9 123.8,37.2 118.2,40.1C112.5,42.9 117.5,41.8 109.7,44.3C101.9,46.8 103.3,45.0 94.9,47.5C86.4,50.0 92.0,48.2 84.3,51.7C76.5,55.3 78.6,53.8 71.6,58.1C64.5,62.3 65.9,59.5 63.1,64.4C60.3,69.4 65.2,69.4 63.1,72.9C61.0,76.4 59.5,76.4 56.7,75.0C53.9,73.6 59.5,72.9 54.6,68.7C49.7,64.4 53.2,65.1 41.9,62.3C30.6,59.5 36.2,62.3 20.7,60.2C5.2,58.1 3.7,77.9 -4.7,56.0C-13.2,34.1 -119.2,15.0 -4.7,-5.5Z" fill="#d1e5f0"/>
<path d="M35.5,-3.4C8.7,0.2 40.1,2.3 39.8,7.2C39.4,12.2 34.1,7.9 34.5,11.5C34.8,15.0 36.2,13.6 40.8,17.8C45.4,22.0 48.6,19.9 48.2,24.2C47.9,28.4 41.9,26.6 39.8,30.5C37.6,34.4 37.6,34.4 41.9,35.8C46.1,37.2 47.5,32.6 52.5,34.8C57.4,36.9 53.2,37.9 56.7,42.2C60.3,46.4 58.1,45.4 63.1,47.5C68.0,49.6 67.0,50.7 71.6,48.5C76.1,46.4 76.9,45.0 76.9,41.1C76.9,37.2 73.0,41.1 71.6,36.9C70.1,32.6 68.4,32.6 72.6,28.4C76.9,24.2 80.4,27.7 84.3,24.2C88.2,20.6 79.3,21.3 84.3,17.8C89.2,14.3 87.8,17.1 99.1,13.6C110.4,10.0 111.1,12.9 118.2,7.2C125.2,1.6 147.8,0.2 120.3,-3.4C92.7,-6.9 62.4,-6.9 35.5,-3.4Z" fill="#fafafa"/>
<path d="M175.4,17.8C176.8,12.5 175.4,13.9 181.8,10.4C188.1,6.9 188.1,6.2 194.5,7.2C200.8,8.3 200.1,7.9 200.8,13.6C201.5,19.2 201.5,18.9 196.6,24.2C191.6,29.5 192.3,28.8 186.0,29.5C179.6,30.2 181.0,30.2 177.5,26.3C174.0,22.4 174.0,23.1 175.4,17.8Z" fill="#fafafa"/>
<path d="M209.3,-3.4C189.5,0.2 205.1,1.9 211.4,7.2C217.8,12.5 215.7,11.1 228.4,12.5C241.1,13.9 236.1,13.6 249.6,11.5C263.0,9.3 261.6,11.1 268.6,6.2C275.7,1.2 290.5,-0.2 270.8,-3.4C251.0,-6.6 229.1,-6.9 209.3,-3.4Z" fill="#fafafa"/>
<path d="M147.8,-1.3C153.5,-6.2 159.9,-4.8 166.9,-1.3C174.0,2.3 171.2,3.7 169.0,9.3C166.9,15.0 166.9,14.3 160.6,15.7C154.2,17.1 154.2,19.2 150.0,13.6C145.7,7.9 142.2,3.7 147.8,-1.3Z" fill="#fafafa"/>
<path d="M319.7,15.7C315.5,12.9 316.9,12.9 324.0,12.5C331.0,12.2 329.6,12.3 340.9,14.6C352.2,17.0 352.9,16.7 357.9,19.5C362.8,22.3 362.8,22.6 355.7,23.1C348.7,23.6 348.7,23.5 336.7,21.0C324.7,18.5 324.0,18.5 319.7,15.7Z" fill="#fafafa"/>
<path d="M99.1,83.5C102.6,80.0 100.5,81.0 109.7,79.3C118.9,77.5 113.9,77.5 126.7,78.2C139.4,78.9 136.5,78.2 147.8,81.4C159.1,84.6 153.5,87.7 160.6,87.7C167.6,87.7 159.1,82.8 169.0,81.4C178.9,80.0 176.1,81.4 190.2,83.5C204.4,85.6 204.4,84.2 211.4,87.7C218.5,91.3 218.5,91.3 211.4,94.1C204.4,96.9 204.4,96.2 190.2,96.2C176.1,96.2 180.3,93.4 169.0,94.1C157.7,94.8 163.4,98.3 156.3,98.3C149.3,98.3 154.9,94.8 147.8,94.1C140.8,93.4 145.0,94.1 135.1,96.2C125.2,98.3 128.1,100.5 118.2,100.5C108.3,100.5 111.8,99.8 105.5,96.2C99.1,92.7 101.2,94.1 99.1,89.9C97.0,85.6 95.6,87.0 99.1,83.5Z" fill="#d1e5f0"/>
<ellipse cx="16.5" cy="21.6" rx="14.4" ry="8.1" fill="#92c5de"/>
<path d="M279.2,44.7C282.1,43.5 282.8,43.3 292.0,42.8C301.1,42.3 297.6,42.5 306.8,43.2C316.0,43.9 316.7,43.7 319.5,44.9C322.3,46.2 323.0,46.5 315.3,47.1C307.5,47.6 306.8,46.8 296.2,46.6C285.6,46.5 289.1,47.3 283.5,46.6C277.8,46.0 276.4,46.0 279.2,44.7Z" fill="#92c5de"/>
<path d="M91.7,60.2C93.1,56.0 93.8,58.1 101.2,53.8C108.6,49.6 106.2,50.7 113.9,47.5C121.7,44.3 119.6,43.6 124.5,44.3C129.5,45.0 128.1,45.7 128.8,49.6C129.5,53.5 123.8,51.7 126.7,56.0C129.5,60.2 130.9,59.5 137.2,62.3C143.6,65.1 146.4,62.3 145.7,64.4C145.0,66.6 145.7,67.3 135.1,68.7C124.5,70.1 126.7,69.4 113.9,68.7C101.2,68.0 104.4,69.4 97.0,66.6C89.6,63.7 90.3,64.4 91.7,60.2Z" fill="#fddbc7"/>
<ellipse cx="110.1" cy="58.1" rx="6.4" ry="2.1" fill="#f4a582"/>
<path d="M17.5,121.7C19.6,118.8 15.4,120.9 27.0,119.5C38.7,118.1 38.4,117.4 52.5,117.4C66.6,117.4 57.4,117.4 69.4,119.5C81.4,121.7 75.1,120.2 88.5,123.8C101.9,127.3 95.6,122.4 109.7,130.1C123.8,137.9 154.2,141.4 130.9,147.1C107.6,152.7 73.0,152.0 39.8,147.1C6.6,142.1 37.6,138.6 31.3,132.2C24.9,125.9 25.3,131.5 20.7,128.0C16.1,124.5 15.4,124.5 17.5,121.7Z" fill="#fddbc7"/>
<path d="M72.6,132.2C73.0,126.5 72.6,130.1 80.0,129.7C87.4,129.4 85.0,128.9 94.9,131.2C104.8,133.4 100.5,131.2 109.7,136.5C118.9,141.8 132.7,143.6 122.4,147.1C112.2,150.6 95.6,152.0 79.0,147.1C62.4,142.1 72.3,138.0 72.6,132.2Z" fill="#f4a582"/>
<path d="M145.7,123.8C147.1,121.3 142.9,122.4 152.1,119.5C161.3,116.7 160.6,118.1 173.3,115.3C186.0,112.5 178.9,112.6 190.2,111.1C201.5,109.5 200.1,109.2 207.2,110.6C214.2,112.0 214.2,112.3 211.4,115.3C208.6,118.3 209.3,117.4 198.7,119.5C188.1,121.7 192.3,119.5 179.6,121.7C166.9,123.8 171.2,124.1 160.6,125.9C150.0,127.7 152.8,127.7 147.8,127.0C142.9,126.2 144.3,126.2 145.7,123.8Z" fill="#fddbc7"/>
<path d="M213.5,110.0C215.0,106.1 214.2,105.8 224.1,104.7C234.0,103.6 229.8,105.1 243.2,106.8C256.6,108.6 251.7,107.9 264.4,110.0C277.1,112.1 272.2,110.0 281.4,113.2C290.5,116.4 287.0,113.9 292.0,119.5C296.9,125.2 299.7,125.9 296.2,130.1C292.7,134.4 292.0,133.3 281.4,132.2C270.8,131.2 275.0,130.5 264.4,127.0C253.8,123.4 260.2,124.1 249.6,121.7C239.0,119.2 242.5,121.3 232.6,119.5C222.7,117.8 226.3,119.5 219.9,116.4C213.5,113.2 212.1,113.9 213.5,110.0Z" fill="#fddbc7"/>
<path d="M222.0,147.1C205.1,142.8 222.0,140.0 232.6,134.4C243.2,128.7 240.4,130.8 253.8,130.1C267.2,129.4 263.0,126.6 272.9,132.2C282.8,137.9 300.4,142.1 283.5,147.1C266.5,152.0 239.0,151.3 222.0,147.1Z" fill="#fddbc7"/>
<path d="M-2.6,-1.3 L9.0,-1.3 L5.9,2.6 L-2.6,3.0Z" fill="#fddbc7"/>
<path d="M398.1,127.0C398.8,122.7 399.5,123.8 408.7,121.7C417.9,119.5 414.4,120.6 425.7,120.6C437.0,120.6 429.9,120.6 442.6,121.7C455.3,122.7 451.1,122.0 463.8,123.8C476.5,125.5 476.5,124.1 480.8,127.0C485.0,129.8 474.4,125.5 476.5,132.2C478.7,139.0 506.9,142.1 487.1,147.1C467.3,152.0 444.0,151.3 417.2,147.1C390.4,142.8 413.0,141.1 406.6,134.4C400.2,127.7 397.4,131.2 398.1,127.0Z" fill="#92c5de"/>
<ellipse cx="427.8" cy="125.9" rx="6.4" ry="4.2" fill="#4393c3"/>
<path d="M389.6,141.1 L404.5,139.2 L421.4,138.8 L421.4,142.8 L389.6,142.8Z" fill="#08306b"/>
<path d="M481.8,7.2C484.7,4.4 483.2,6.2 491.4,4.0C499.5,1.9 494.2,2.1 506.2,0.9C518.2,-0.3 512.6,-0.1 527.4,0.4C542.2,1.0 545.1,0.3 550.7,2.6C556.4,4.8 553.5,4.6 544.3,7.2C535.2,9.8 535.9,8.3 523.2,10.4C510.4,12.5 514.0,11.1 506.2,13.6C498.4,16.0 505.5,16.8 499.8,17.8C494.2,18.9 494.9,18.5 489.2,16.8C483.6,15.0 485.4,15.7 482.9,12.5C480.4,9.3 479.0,10.0 481.8,7.2Z" fill="#d1e5f0"/>
<ellipse cx="495.6" cy="10.8" rx="4.7" ry="1.7" fill="#fafafa"/>
<ellipse cx="535.2" cy="49.6" rx="8.1" ry="3.4" fill="#d1e5f0"/>
<ellipse cx="522.1" cy="104.1" rx="5.3" ry="1.7" fill="#d1e5f0"/>
<path d="M571.9,132.2C574.0,123.8 577.5,129.4 582.5,121.7C587.4,113.9 581.8,116.0 586.7,108.9C591.7,101.9 588.9,104.7 597.3,100.5C605.8,96.2 598.7,97.3 612.2,96.2C625.6,95.2 629.1,80.3 637.6,97.3C646.1,114.2 658.1,130.5 637.6,147.1C617.1,163.7 598.0,152.0 576.1,147.1C554.2,142.1 569.8,140.7 571.9,132.2Z" fill="#d1e5f0"/>
<path d="M604.7,147.1C596.3,141.4 606.2,137.9 612.2,130.1C618.2,122.4 614.3,126.7 622.8,123.8C631.2,120.8 632.6,113.5 637.6,121.2C642.5,129.0 648.5,138.5 637.6,147.1C626.6,155.7 613.2,152.7 604.7,147.1Z" fill="#92c5de"/>
<path d="M396.0,1.9C400.9,-0.9 398.8,-1.6 421.4,-3.4C444.0,-5.1 452.5,-6.6 463.8,-3.4C475.1,-0.2 462.4,1.2 455.3,6.2C448.3,11.1 451.1,10.0 442.6,11.5C434.1,12.9 437.0,12.2 429.9,10.4C422.8,8.6 429.2,7.9 421.4,6.2C413.7,4.4 415.1,6.5 406.6,5.1C398.1,3.7 391.1,4.7 396.0,1.9Z" fill="#fddbc7"/>
<path d="M499.8,30.5C502.7,28.5 501.3,27.7 510.4,26.3C519.6,24.9 518.2,28.1 527.4,26.3C536.6,24.5 530.9,22.4 538.0,21.0C545.1,19.6 545.8,19.9 548.6,22.0C551.4,24.2 553.5,25.2 546.5,27.3C539.4,29.5 538.0,27.7 527.4,28.4C516.8,29.1 523.2,28.2 514.7,29.5C506.2,30.7 506.9,31.9 502.0,32.2C497.0,32.6 497.0,32.5 499.8,30.5Z" fill="#fddbc7"/>
<path d="M563.4,27.3C565.5,25.2 567.7,25.6 580.4,24.2C593.1,22.8 582.5,25.1 601.6,23.1C620.6,21.1 625.6,12.4 637.6,18.2C649.6,24.1 646.1,35.5 637.6,40.7C629.1,45.9 627.7,36.7 612.2,33.7C596.6,30.7 603.7,32.6 591.0,31.6C578.3,30.5 583.2,31.9 574.0,30.5C564.8,29.1 561.3,29.5 563.4,27.3Z" fill="#fddbc7"/>
<path d="M599.4,27.3C599.4,25.1 599.4,26.1 612.2,24.2C624.9,22.3 629.1,18.7 637.6,21.6C646.1,24.6 646.1,30.0 637.6,33.1C629.1,36.2 624.9,32.9 612.2,31.0C599.4,29.0 599.4,29.6 599.4,27.3Z" fill="#f4a582"/>
<path d="M601.6,76.7C601.6,75.1 604.4,76.0 616.4,77.6C628.4,79.1 630.5,78.2 637.6,81.4C644.7,84.6 644.7,86.8 637.6,87.1C630.5,87.5 628.4,85.9 616.4,82.4C604.4,79.0 601.6,78.3 601.6,76.7Z" fill="#fddbc7"/>
<ellipse cx="421.4" cy="111.1" rx="9.5" ry="5.1" fill="#fddbc7"/>
<use href="#coast"/>
<path d="M326.1,-2.3C328.2,1.2 325.4,2.6 332.4,8.3C339.5,13.9 334.5,11.6 347.3,14.6C360.0,17.7 356.4,17.0 370.6,17.4C384.7,17.7 377.6,17.7 389.6,15.7C401.7,13.7 396.7,14.4 406.6,11.5C416.5,8.5 412.6,11.0 419.3,6.8C426.0,2.6 424.3,1.4 426.7,-1.3" fill="none" stroke="#ff0000" stroke-width="1.8"/>
<path d="M385.4,97.9C386.1,95.4 386.1,95.0 391.8,93.0C397.4,91.1 396.0,91.5 402.4,92.0C408.7,92.5 409.1,92.1 410.8,94.5C412.6,97.0 411.9,97.1 407.7,99.4C403.4,101.7 404.1,101.2 398.1,101.5C392.1,101.9 393.9,101.7 389.6,100.5C385.4,99.3 384.7,100.4 385.4,97.9Z" fill="none" stroke="#a020f0" stroke-width="1.8"/>
<path d="M506.2,145.0C505.5,141.4 502.0,139.0 504.1,134.4C506.2,129.8 504.1,132.6 512.6,131.2C521.0,129.8 518.9,129.4 529.5,130.1C540.1,130.8 536.6,130.8 544.3,133.3C552.1,135.8 548.9,133.7 552.8,137.5C556.7,141.4 554.9,142.5 556.0,145.0" fill="none" stroke="#ff0000" stroke-width="1.8"/>
<path d="M637.6,19.5C629.1,20.7 626.3,20.4 612.2,23.1C598.0,25.9 595.2,24.9 595.2,27.8C595.2,30.6 598.0,30.0 612.2,31.6C626.3,33.1 629.1,32.2 637.6,32.4" fill="none" stroke="#000" stroke-width="1.8"/>
<path d="M637.6,23.5C631.9,24.1 628.4,23.8 620.6,25.2C612.9,26.6 613.6,26.1 614.3,27.8C615.0,29.4 615.0,29.1 622.8,30.1C630.5,31.1 632.6,30.5 637.6,30.7" fill="none" stroke="#a020f0" stroke-width="1.8"/>
<path d="M97.0,59.1C98.4,56.0 97.0,57.9 105.5,54.9C113.9,51.9 111.1,52.1 122.4,50.0C133.7,47.9 126.7,49.0 139.4,48.5C152.1,48.0 149.3,47.5 160.6,48.5C171.9,49.6 164.8,49.2 173.3,51.7C181.8,54.2 177.5,53.1 186.0,56.0C194.5,58.8 192.7,57.7 198.7,60.2C204.7,62.7 204.0,60.5 204.0,63.4C204.0,66.2 204.7,66.1 198.7,68.7C192.7,71.3 195.9,69.7 186.0,71.2C176.1,72.8 181.8,71.7 169.0,73.3C156.3,75.0 162.0,74.7 147.8,76.1C133.7,77.5 138.0,77.6 126.7,77.6C115.3,77.6 120.3,78.3 113.9,76.1C107.6,73.8 111.8,74.7 107.6,70.8C103.3,66.9 104.8,68.3 101.2,64.4C97.7,60.5 95.6,62.3 97.0,59.1Z" fill="none" stroke="#ff0000" stroke-width="1.8"/>
<path d="M212.5,111.1C213.9,107.9 213.2,108.6 219.9,105.8C226.6,102.9 221.3,104.2 232.6,102.6C243.9,101.0 239.7,101.4 253.8,100.9C267.9,100.3 263.0,100.0 275.0,100.9C287.0,101.8 283.1,100.6 289.8,103.6C296.5,106.7 294.1,104.7 295.1,110.0C296.2,115.3 291.2,114.9 293.0,119.5C294.8,124.1 294.6,120.6 300.4,123.8C306.3,127.0 309.2,125.9 310.6,129.1C312.0,132.2 310.9,131.5 304.7,133.3C298.4,135.1 301.8,134.7 292.0,134.4C282.1,134.0 285.6,134.7 275.0,132.2C264.4,129.8 270.8,130.5 260.2,127.0C249.6,123.4 254.5,124.5 243.2,121.7C231.9,118.8 235.4,120.6 226.3,118.5C217.1,116.4 220.3,117.8 215.7,115.3C211.1,112.8 211.1,114.2 212.5,111.1Z" fill="none" stroke="#ff0000" stroke-width="1.8"/>
<path d="M81.1,145.0C78.3,141.1 73.7,138.3 72.6,133.3C71.6,128.4 70.5,131.4 77.9,130.1C85.3,128.9 81.4,129.1 94.9,129.5C108.3,129.8 101.9,129.6 118.2,131.2C134.4,132.8 128.1,132.2 143.6,134.4C159.1,136.5 152.1,134.7 164.8,137.5C177.5,140.4 176.1,141.1 181.8,142.8" fill="none" stroke="#000" stroke-width="1.8"/>
<path d="M28.1,114.2 L33.4,110.0 L52.5,105.8 L73.7,103.6 L94.9,101.5 L105.5,98.3 L107.6,94.5 L133.0,94.5 L138.3,98.3 L124.5,101.9 L138.3,104.7 L133.0,107.9 L124.5,111.1 L121.4,115.7 L115.0,117.4 L109.7,123.8 L101.2,126.3 L84.3,127.0 L63.1,123.8 L41.9,119.5 L31.3,117.4Z" fill="none" stroke="#0000ff" stroke-width="2" stroke-linejoin="round"/>
</g>
<use href="#frame"/>
</g>
<g transform="translate(102.6,511.6)">
<g clip-path="url(#pc)"><rect x="0" y="0" width="633.4" height="140.6" fill="#fafafa"/>
<path d="M-4.7,8.3C2.3,-2.0 3.0,7.6 16.5,9.3C29.9,11.1 27.0,10.0 35.5,13.6C44.0,17.1 36.2,15.7 41.9,19.9C47.5,24.2 46.1,20.6 52.5,26.3C58.8,31.9 57.4,30.5 61.0,36.9C64.5,43.2 65.9,41.1 63.1,45.4C60.3,49.6 63.1,50.3 52.5,49.6C41.9,48.9 44.7,46.8 31.3,43.2C17.9,39.7 24.2,40.1 12.2,39.0C0.2,37.9 0.9,50.3 -4.7,40.1C-10.4,29.8 -11.8,18.5 -4.7,8.3Z" fill="#d1e5f0"/>
<path d="M-4.7,15.7C0.9,10.4 1.6,13.9 12.2,14.6C22.8,15.3 18.2,15.0 27.0,17.8C35.9,20.6 35.2,19.2 38.7,23.1C42.2,27.0 41.5,25.9 37.6,29.5C33.8,33.0 35.5,32.6 27.0,33.7C18.6,34.8 22.8,33.7 12.2,32.6C1.6,31.6 0.9,36.2 -4.7,30.5C-10.4,24.9 -10.4,21.0 -4.7,15.7Z" fill="#92c5de"/>
<path d="M63.1,9.3C67.7,6.5 63.1,8.6 73.7,7.2C84.3,5.8 81.4,6.2 94.9,5.1C108.3,4.0 103.3,2.6 113.9,4.0C124.5,5.4 119.6,3.3 126.7,9.3C133.7,15.3 132.3,12.9 135.1,22.0C138.0,31.2 138.0,29.5 135.1,36.9C132.3,44.3 135.1,40.8 126.7,44.3C118.2,47.8 121.7,46.8 109.7,47.5C97.7,48.2 100.5,48.9 90.6,46.4C80.7,43.9 86.0,44.7 80.0,40.1C74.0,35.5 75.4,38.7 72.6,32.6C69.8,26.6 75.4,24.9 71.6,22.0C67.7,19.2 64.8,26.3 61.0,24.2C57.1,22.0 59.2,20.6 59.9,15.7C60.6,10.7 58.5,12.2 63.1,9.3Z" fill="#d1e5f0"/>
<path d="M92.7,19.9C95.9,15.3 94.2,16.8 101.2,14.6C108.3,12.5 106.9,12.5 113.9,13.6C121.0,14.6 118.4,13.6 122.4,17.8C126.4,22.0 126.0,20.6 126.0,26.3C126.0,31.9 126.4,30.2 122.4,34.8C118.4,39.4 120.3,37.6 113.9,40.1C107.6,42.5 109.7,43.2 103.3,42.2C97.0,41.1 98.7,41.5 94.9,36.9C91.0,32.3 92.4,34.1 91.7,28.4C91.0,22.8 89.6,24.5 92.7,19.9Z" fill="#92c5de"/>
<path d="M48.2,98.3C50.4,94.8 48.9,96.2 58.8,94.1C68.7,92.0 69.4,94.5 77.9,92.0C86.4,89.5 75.1,88.8 84.3,86.7C93.5,84.6 91.3,85.3 105.5,85.6C119.6,86.0 113.9,85.3 126.7,87.7C139.4,90.2 136.5,89.5 143.6,93.0C150.7,96.6 150.7,94.5 147.8,98.3C145.0,102.2 142.2,101.2 135.1,104.7C128.1,108.2 132.3,106.5 126.7,108.9C121.0,111.4 118.2,109.3 118.2,112.1C118.2,114.9 121.0,114.2 126.7,117.4C132.3,120.6 135.1,118.8 135.1,121.7C135.1,124.5 135.1,125.2 126.7,125.9C118.2,126.6 118.2,123.4 109.7,123.8C101.2,124.1 106.9,124.1 101.2,127.0C95.6,129.8 99.8,131.2 92.7,132.2C85.7,133.3 87.8,133.7 80.0,130.1C72.3,126.6 75.8,127.3 69.4,121.7C63.1,116.0 66.6,118.8 61.0,113.2C55.3,107.5 56.7,109.6 52.5,104.7C48.2,99.8 46.1,101.9 48.2,98.3Z" fill="#d1e5f0"/>
<path d="M-4.7,110.0C0.2,99.4 1.6,111.4 10.1,115.3C18.6,119.2 10.1,118.1 20.7,121.7C31.3,125.2 27.8,122.4 41.9,125.9C56.0,129.4 49.7,125.2 63.1,132.2C76.5,139.3 104.8,142.1 82.1,147.1C59.5,152.0 24.2,159.4 -4.7,147.1C-33.7,134.7 -9.7,120.6 -4.7,110.0Z" fill="#d1e5f0"/>
<path d="M92.7,132.2C99.1,126.6 97.0,129.4 105.5,130.1C113.9,130.8 110.4,128.7 118.2,134.4C125.9,140.0 139.4,142.8 128.8,147.1C118.2,151.3 98.4,152.0 86.4,147.1C74.4,142.1 86.4,137.9 92.7,132.2Z" fill="#d1e5f0"/>
<path d="M229.4,53.8C231.6,48.9 228.7,49.6 236.9,45.4C245.0,41.1 241.1,43.9 253.8,41.1C266.5,38.3 260.9,39.4 275.0,36.9C289.1,34.4 281.4,35.1 296.2,33.7C311.0,32.3 306.0,30.9 319.5,32.6C333.0,34.4 320.3,36.5 336.7,39.0C353.0,41.5 350.1,38.3 368.5,40.1C386.8,41.8 386.1,41.1 391.8,44.3C397.4,47.5 396.7,46.8 385.4,49.6C374.1,52.4 374.1,50.7 357.9,52.8C341.6,54.9 344.4,51.4 336.7,56.0C328.9,60.5 338.8,60.2 334.5,66.6C330.3,72.9 330.3,70.8 324.0,75.0C317.6,79.3 321.9,77.1 315.5,79.3C309.0,81.4 312.5,81.7 304.7,81.4C296.8,81.0 301.8,80.3 292.0,78.2C282.1,76.1 284.2,77.5 275.0,75.0C265.8,72.6 272.9,72.9 264.4,70.8C255.9,68.7 258.0,70.8 249.6,68.7C241.1,66.6 245.3,67.3 239.0,64.4C232.6,61.6 233.7,63.7 230.5,60.2C227.3,56.7 227.3,58.8 229.4,53.8Z" fill="#d1e5f0"/>
<ellipse cx="211.4" cy="90.3" rx="8.5" ry="2.8" fill="#d1e5f0"/>
<path d="M285.6,108.9C287.7,106.8 289.5,110.0 296.2,113.2C302.9,116.4 304.3,115.6 305.7,118.5C307.1,121.3 305.7,121.3 300.4,121.7C295.1,122.0 294.8,123.8 289.8,119.5C284.9,115.3 283.5,111.1 285.6,108.9Z" fill="#d1e5f0"/>
<path d="M345.1,13.6C346.6,8.6 343.7,9.3 351.5,4.0C359.3,-1.3 352.2,0.2 368.5,-2.3C384.7,-4.8 377.6,-3.4 400.2,-3.4C422.8,-3.4 423.6,-7.3 436.3,-2.3C449.0,2.6 435.6,4.4 438.4,11.5C441.2,18.5 446.2,15.7 444.7,18.9C443.3,22.0 443.3,19.2 434.1,21.0C425.0,22.8 428.5,21.3 417.2,24.2C405.9,27.0 413.0,28.4 400.2,29.5C387.5,30.5 393.2,29.8 379.0,27.3C364.9,24.9 368.5,24.9 357.9,22.0C347.3,19.2 351.5,21.7 347.3,18.9C343.0,16.0 343.7,18.5 345.1,13.6Z" fill="#d1e5f0"/>
<path d="M463.8,123.8C460.3,117.4 461.7,117.8 465.9,113.2C470.2,108.6 468.1,108.6 476.5,110.0C485.0,111.4 481.5,116.4 491.4,117.4C501.3,118.5 497.7,116.0 506.2,113.2C514.7,110.3 506.2,110.0 516.8,108.9C527.4,107.9 523.9,108.6 538.0,110.0C552.1,111.4 548.6,109.3 559.2,113.2C569.8,117.1 564.1,116.0 569.8,121.7C575.4,127.3 570.5,126.6 576.1,130.1C581.8,133.7 579.7,133.7 586.7,132.2C593.8,130.8 588.9,129.4 597.3,125.9C605.8,122.4 598.7,123.9 612.2,121.7C625.6,119.4 629.1,110.6 637.6,119.1C646.1,127.6 683.5,137.8 637.6,147.1C591.7,156.4 553.5,152.0 499.8,147.1C446.2,142.1 488.5,140.0 476.5,132.2C464.5,124.5 467.3,130.1 463.8,123.8Z" fill="#d1e5f0"/>
<path d="M612.2,130.1C613.6,122.4 614.3,126.7 622.8,123.8C631.2,120.8 632.6,113.5 637.6,121.2C642.5,129.0 644.0,138.5 637.6,147.1C631.2,155.7 627.0,152.7 618.5,147.1C610.0,141.4 610.7,137.9 612.2,130.1Z" fill="#92c5de"/>
<path d="M343.0,124.8C343.7,122.4 343.0,121.3 351.5,121.7C360.0,122.0 357.2,124.1 368.5,125.9C379.8,127.7 374.8,127.0 385.4,127.0C396.0,127.0 391.8,124.8 400.2,125.9C408.7,127.0 412.3,128.6 410.8,130.1C409.4,131.7 410.1,130.4 396.0,130.6C381.9,130.7 384.0,131.0 368.5,130.6C352.9,130.1 357.9,131.0 349.4,129.1C340.9,127.2 342.3,127.3 343.0,124.8Z" fill="#d1e5f0"/>
<path d="M-4.7,64.4C0.9,59.1 1.6,64.1 12.2,62.3C22.8,60.5 13.6,60.5 27.0,59.1C40.5,57.7 38.4,59.1 52.5,58.1C66.6,57.0 57.4,59.1 69.4,56.0C81.4,52.8 78.6,50.0 88.5,48.5C98.4,47.1 89.2,51.4 99.1,51.7C109.0,52.1 105.5,50.7 118.2,49.6C130.9,48.5 124.5,48.5 137.2,48.5C150.0,48.5 144.3,48.5 156.3,49.6C168.3,50.7 169.0,48.9 173.3,51.7C177.5,54.5 174.7,54.5 169.0,58.1C163.4,61.6 163.4,58.8 156.3,62.3C149.3,65.8 154.9,64.4 147.8,68.7C140.8,72.9 146.4,71.9 135.1,75.0C123.8,78.2 129.5,75.7 113.9,78.2C98.4,80.7 105.5,82.4 88.5,82.4C71.6,82.4 78.6,80.0 63.1,78.2C47.5,76.4 56.0,77.9 41.9,77.1C27.8,76.4 32.7,75.4 20.7,76.1C8.7,76.8 14.3,78.6 5.9,79.3C-2.6,80.0 -1.2,83.2 -4.7,78.2C-8.3,73.3 -10.4,69.7 -4.7,64.4Z" fill="#fddbc7"/>
<path d="M63.1,74.0C64.5,70.6 62.4,71.1 69.4,66.6C76.5,62.0 73.7,63.7 84.3,60.2C94.9,56.7 89.9,57.9 101.2,56.0C112.5,54.0 109.7,53.6 118.2,54.3C126.7,55.0 121.0,54.7 126.7,58.1C132.3,61.5 133.7,60.9 135.1,64.4C136.5,68.0 138.0,66.2 130.9,68.7C123.8,71.1 125.9,69.7 113.9,71.9C101.9,74.0 107.6,73.3 94.9,75.0C82.1,76.8 85.7,76.6 75.8,77.1C65.9,77.7 69.4,77.8 65.2,76.7C61.0,75.7 61.7,77.4 63.1,74.0Z" fill="#f4a582"/>
<path d="M174.3,29.5C175.0,25.6 172.9,28.1 181.8,24.2C190.6,20.3 187.4,22.8 200.8,17.8C214.2,12.9 214.2,14.3 222.0,9.3C229.8,4.4 220.6,7.2 224.1,3.0C227.7,-1.3 207.2,-1.3 232.6,-3.4C258.0,-5.5 283.5,-6.9 300.4,-3.4C317.4,0.2 295.5,1.6 283.5,7.2C271.5,12.9 277.8,9.3 264.4,13.6C251.0,17.8 253.8,15.7 243.2,19.9C232.6,24.2 239.7,22.4 232.6,26.3C225.5,30.2 232.6,28.8 222.0,31.6C211.4,34.4 215.0,33.4 200.8,34.8C186.7,36.2 188.5,37.6 179.6,35.8C170.8,34.1 173.6,33.4 174.3,29.5Z" fill="#fddbc7"/>
<path d="M239.0,8.3C237.6,6.2 239.0,7.9 245.3,4.0C251.7,0.2 247.4,-0.9 258.0,-3.4C268.6,-5.9 274.3,-6.2 277.1,-3.4C279.9,-0.6 275.7,0.5 266.5,5.1C257.3,9.7 258.7,9.3 249.6,10.4C240.4,11.5 240.4,10.4 239.0,8.3Z" fill="#f4a582"/>
<path d="M151.0,24.2C152.4,20.6 153.1,21.0 158.4,21.0C163.7,21.0 163.4,21.0 166.9,24.2C170.4,27.3 170.4,27.3 169.0,30.5C167.6,33.7 167.6,33.4 162.7,33.7C157.7,34.1 158.1,34.8 154.2,31.6C150.3,28.4 149.6,27.7 151.0,24.2Z" fill="#fddbc7"/>
<path d="M250.6,85.6C252.0,83.2 251.3,83.2 258.0,82.4C264.8,81.7 262.3,81.4 270.8,83.5C279.2,85.6 275.7,85.3 283.5,88.8C291.2,92.3 294.1,91.6 294.1,94.1C294.1,96.6 292.0,96.6 283.5,96.2C275.0,95.9 278.5,95.2 268.6,93.0C258.7,90.9 259.8,92.3 253.8,89.9C247.8,87.4 249.2,88.1 250.6,85.6Z" fill="#fddbc7"/>
<path d="M166.9,113.2C167.6,110.0 169.0,111.1 179.6,110.0C190.2,108.9 188.8,108.9 198.7,110.0C208.6,111.1 207.9,109.3 209.3,113.2C210.7,117.1 209.3,118.1 202.9,121.7C196.6,125.2 198.7,124.5 190.2,123.8C181.8,123.1 185.3,123.1 177.5,119.5C169.7,116.0 166.2,116.4 166.9,113.2Z" fill="#fddbc7"/>
<path d="M206.1,130.1C208.2,125.2 209.7,132.2 215.7,132.2C221.7,132.2 218.5,129.4 224.1,130.1C229.8,130.8 227.0,128.7 232.6,134.4C238.3,140.0 248.9,142.8 241.1,147.1C233.3,151.3 221.0,152.7 209.3,147.1C197.6,141.4 204.0,135.1 206.1,130.1Z" fill="#fddbc7"/>
<path d="M172.2,147.1C167.6,143.6 171.5,140.7 175.4,136.5C179.3,132.2 179.3,130.8 183.9,134.4C188.5,137.9 193.1,142.8 189.2,147.1C185.3,151.3 176.8,150.6 172.2,147.1Z" fill="#fddbc7"/>
<path d="M367.4,101.5C366.0,97.3 369.5,97.8 376.9,95.2C384.3,92.5 379.8,93.0 389.6,93.7C399.5,94.4 402.0,93.6 406.6,97.3C411.2,101.0 407.7,100.1 403.4,104.7C399.2,109.3 401.3,110.0 393.9,111.1C386.5,112.1 390.0,111.1 381.2,107.9C372.3,104.7 368.8,105.8 367.4,101.5Z" fill="#fddbc7"/>
<path d="M489.2,26.3C487.1,23.8 486.4,23.5 495.6,19.9C504.8,16.4 502.7,19.2 516.8,15.7C530.9,12.2 526.0,13.2 538.0,9.3C550.0,5.4 542.2,6.5 552.8,4.0C563.4,1.6 559.2,2.4 569.8,1.9C580.4,1.4 581.8,0.8 584.6,2.6C587.4,4.3 586.7,4.2 578.3,7.2C569.8,10.2 569.1,8.6 559.2,11.5C549.3,14.3 555.7,12.5 548.6,15.7C541.5,18.9 548.6,18.2 538.0,21.0C527.4,23.8 528.8,22.0 516.8,24.2C504.8,26.3 511.1,26.6 502.0,27.3C492.8,28.1 491.4,28.8 489.2,26.3Z" fill="#fddbc7"/>
<path d="M550.7,30.5C547.2,29.1 551.4,28.4 559.2,26.3C567.0,24.2 563.4,24.2 574.0,24.2C584.6,24.2 579.7,26.6 591.0,26.3C602.3,25.9 592.4,25.4 607.9,23.1C623.5,20.8 627.7,10.8 637.6,19.5C647.5,28.2 644.7,41.3 637.6,49.2C630.5,57.1 624.9,47.3 616.4,43.2C607.9,39.1 620.6,38.7 612.2,36.9C603.7,35.1 603.7,38.7 591.0,37.9C578.3,37.2 581.1,37.2 574.0,34.8C567.0,32.3 577.5,31.9 569.8,30.5C562.0,29.1 554.2,31.9 550.7,30.5Z" fill="#fddbc7"/>
<path d="M607.9,28.4C608.6,26.1 608.6,26.8 618.5,25.2C628.4,23.7 631.2,21.1 637.6,23.7C644.0,26.4 644.7,30.2 637.6,33.1C630.5,35.9 626.3,33.8 616.4,32.2C606.5,30.7 607.2,30.7 607.9,28.4Z" fill="#f4a582"/>
<path d="M536.9,66.6C536.9,63.4 535.5,63.7 538.0,60.2C540.5,56.7 541.9,59.1 544.3,56.0C546.8,52.8 541.2,51.7 545.4,50.7C549.6,49.6 549.6,51.7 557.1,52.8C564.5,53.8 563.4,50.0 567.7,53.8C571.9,57.7 567.0,58.8 569.8,64.4C572.6,70.1 567.0,68.3 576.1,70.8C585.3,73.3 583.9,71.1 597.3,71.9C610.7,72.6 610.4,69.7 616.4,72.9C622.4,76.1 618.2,77.5 615.3,81.4C612.5,85.3 621.7,83.9 607.9,84.6C594.1,85.3 586.7,86.0 574.0,83.5C561.3,81.0 578.3,80.3 569.8,77.1C561.3,74.0 559.2,76.4 548.6,74.0C538.0,71.5 541.9,72.2 538.0,69.7C534.1,67.3 536.9,69.7 536.9,66.6Z" fill="#fddbc7"/>
<ellipse cx="528.5" cy="34.3" rx="2.3" ry="1.5" fill="#fddbc7"/>
<ellipse cx="560.7" cy="6.4" rx="6.8" ry="1.1" fill="#ff0000"/>
<use href="#coast"/>
<path d="M-4.7,50.2C3.7,51.1 5.2,50.9 20.7,52.8C36.2,54.7 28.5,53.8 41.9,56.0C55.3,58.1 50.7,57.0 61.0,59.1C71.2,61.3 68.4,59.8 72.6,62.3C76.9,64.8 77.6,64.3 73.7,66.6C69.8,68.8 71.6,67.5 61.0,69.1C50.4,70.7 55.3,70.7 41.9,71.2C28.5,71.8 36.2,71.4 20.7,70.8C5.2,70.2 3.7,69.9 -4.7,69.5" fill="none" stroke="#000" stroke-width="1.8"/>
<path d="M59.5,72.9C60.2,70.1 57.6,71.5 63.1,67.6C68.5,63.7 65.2,65.8 75.8,61.3C86.4,56.7 81.4,58.1 94.9,53.8C108.3,49.6 101.9,51.2 116.1,48.5C130.2,45.9 123.8,46.7 137.2,46.0C150.7,45.3 146.4,45.2 156.3,46.4C166.2,47.6 162.3,46.8 166.9,49.6C171.5,52.4 170.8,51.4 170.1,54.9C169.4,58.4 170.8,56.7 164.8,60.2C158.8,63.7 163.4,62.3 152.1,65.5C140.8,68.7 146.4,66.9 130.9,69.7C115.3,72.6 121.0,71.6 105.5,74.0C89.9,76.3 97.0,75.7 84.3,76.7C71.6,77.8 75.1,77.4 67.3,77.1C59.5,76.9 63.6,77.5 61.0,76.1C58.3,74.7 58.8,75.7 59.5,72.9Z" fill="none" stroke="#ff0000" stroke-width="1.8"/>
<path d="M179.6,15.3C180.7,13.3 178.2,13.6 186.0,11.9C193.8,10.2 191.6,10.7 202.9,10.2C214.2,9.7 210.4,9.4 219.9,10.4C229.4,11.4 228.7,11.0 231.6,13.1C234.4,15.3 235.1,14.6 228.4,16.8C221.7,18.9 222.7,18.6 211.4,19.5C200.1,20.4 204.0,20.1 194.5,19.5C184.9,18.9 187.8,19.2 182.8,17.8C177.9,16.4 178.6,17.2 179.6,15.3Z" fill="none" stroke="#000" stroke-width="1.8"/>
<path d="M260.2,-2.3C257.3,1.6 260.9,3.3 251.7,9.3C242.5,15.3 246.0,11.8 232.6,15.7C219.2,19.6 225.5,17.5 211.4,21.0C197.3,24.5 201.5,23.1 190.2,26.3C178.9,29.5 182.5,27.7 177.5,30.5C172.6,33.4 173.3,32.5 175.4,34.8C177.5,37.0 175.4,36.6 183.9,37.3C192.3,38.0 188.8,38.4 200.8,36.9C212.8,35.3 209.3,35.8 219.9,32.6C230.5,29.5 224.8,30.9 232.6,27.3C240.4,23.8 232.6,25.1 243.2,22.0C253.8,19.0 246.7,20.7 264.4,18.2C282.1,15.8 279.2,16.3 296.2,14.6C313.2,12.9 304.8,15.1 315.5,13.1C326.1,11.2 321.5,12.3 328.2,8.9C334.9,5.5 332.1,6.7 335.6,3.0C339.1,-0.8 337.6,-0.6 338.6,-2.3" fill="none" stroke="#ff0000" stroke-width="1.8"/>
<path d="M191.3,145.0C189.5,140.0 191.3,137.2 186.0,130.1C180.7,123.1 182.5,127.3 175.4,123.8C168.3,120.2 169.7,122.7 164.8,119.5C159.9,116.4 159.9,117.4 160.6,114.2C161.3,111.1 159.1,111.9 166.9,110.0C174.7,108.1 171.9,108.7 183.9,108.5C195.9,108.3 192.3,107.5 202.9,109.4C213.5,111.3 207.9,110.1 215.7,114.2C223.4,118.3 218.5,117.4 226.3,121.7C234.0,125.9 231.9,122.7 239.0,127.0C246.0,131.2 243.2,128.4 247.4,134.4C251.7,140.4 250.3,141.4 251.7,145.0" fill="none" stroke="#ff0000" stroke-width="1.8"/>
<path d="M249.6,112.1C253.1,108.6 254.5,110.7 262.3,106.8C270.1,102.9 266.5,105.4 272.9,100.5C279.2,95.5 273.6,95.9 281.4,92.0C289.1,88.1 283.5,90.6 296.2,88.8C308.9,87.0 306.0,87.4 319.5,86.7C333.0,86.0 320.3,86.0 336.7,86.7C353.0,87.4 347.3,87.4 368.5,88.8C389.6,90.2 381.2,89.5 400.2,90.9C419.3,92.3 411.5,91.3 425.7,93.0C439.8,94.8 434.1,92.3 442.6,96.2C451.1,100.1 450.0,99.4 451.1,104.7C452.2,110.0 445.8,107.5 445.8,112.1C445.8,116.7 450.0,113.9 451.1,118.5C452.2,123.1 445.1,120.9 449.0,125.9C452.9,130.8 459.2,129.4 462.8,133.3C466.3,137.2 466.3,135.8 459.6,137.5C452.9,139.3 453.9,139.0 442.6,138.6C431.3,138.3 436.3,139.3 425.7,136.5C415.1,133.7 420.7,133.7 410.8,130.1C400.9,126.6 406.6,127.3 396.0,125.9C385.4,124.5 391.8,124.8 379.0,125.9C366.3,127.0 372.0,127.0 357.9,129.1C343.7,131.2 350.8,130.3 336.7,132.2C322.5,134.2 329.0,134.1 315.5,134.8C302.0,135.5 307.6,135.6 296.2,134.4C284.8,133.2 291.2,134.4 281.4,131.2C271.5,128.0 276.4,129.4 266.5,124.8C256.6,120.2 257.3,121.7 251.7,117.4C246.0,113.2 246.0,115.6 249.6,112.1Z" fill="none" stroke="#0000ff" stroke-width="1.8"/>
<path d="M463.4,136.9C466.4,135.8 465.1,134.6 472.3,133.5C479.5,132.5 477.9,132.6 485.0,133.7C492.1,134.9 489.2,133.9 493.5,136.9C497.7,139.9 496.3,140.9 497.7,142.8" fill="none" stroke="#ff0000" stroke-width="1.8"/>
<path d="M637.6,24.8C633.7,25.8 625.9,25.9 625.9,27.8C625.9,29.7 633.7,29.6 637.6,30.5" fill="none" stroke="#a020f0" stroke-width="1.8"/>
</g>
<use href="#frame"/>
</g>
<g transform="translate(102.6,744.6)">
<g clip-path="url(#pc)"><rect x="0" y="0" width="633.4" height="140.6" fill="#fafafa"/>
<path d="M169.0,40.1C167.6,35.8 168.3,36.2 175.4,32.6C182.5,29.1 178.2,29.5 190.2,29.5C202.2,29.5 197.3,31.9 211.4,32.6C225.5,33.4 218.5,32.3 232.6,31.6C246.7,30.9 239.7,29.8 253.8,30.5C267.9,31.2 260.9,31.6 275.0,33.7C289.1,35.8 282.7,34.4 296.2,36.9C309.7,39.4 302.0,38.7 315.5,41.1C329.0,43.6 326.1,41.5 336.7,44.3C347.3,47.1 343.0,45.7 347.3,49.6C351.5,53.5 351.5,51.7 349.4,56.0C347.3,60.2 337.4,57.7 340.9,62.3C344.4,66.9 347.0,65.5 359.8,69.7C372.5,74.0 364.9,71.5 379.0,75.0C393.2,78.6 383.9,77.5 402.1,80.3C420.4,83.2 412.7,80.7 433.9,83.5C455.1,86.3 444.5,85.3 465.7,88.8C486.9,92.3 476.3,90.2 497.5,94.1C518.7,98.0 508.7,96.6 529.3,100.5C549.9,104.3 542.2,102.2 559.2,105.8C576.2,109.3 566.2,107.9 580.4,111.1C594.5,114.2 587.4,113.2 601.6,115.3C615.7,117.4 609.4,116.4 622.8,117.4C636.1,118.5 635.3,107.9 641.6,118.5C647.9,129.1 828.8,139.0 641.6,149.2C454.4,159.4 270.8,154.1 80.0,149.2C-110.7,144.3 77.9,140.7 69.4,134.4C61.0,128.0 64.5,133.7 54.6,130.1C44.7,126.6 44.0,127.7 39.8,123.8C35.5,119.9 34.1,119.2 41.9,118.5C49.7,117.8 52.5,119.2 63.1,121.7C73.7,124.1 66.6,125.9 73.7,125.9C80.7,125.9 83.6,125.9 84.3,121.7C85.0,117.4 77.2,120.2 75.8,113.2C74.4,106.1 77.2,108.9 80.0,100.5C82.9,92.0 79.3,93.0 84.3,87.7C89.2,82.4 83.6,85.6 94.9,84.6C106.2,83.5 107.6,83.5 118.2,84.6C128.8,85.6 121.0,83.2 126.7,87.7C132.3,92.3 128.1,94.1 135.1,98.3C142.2,102.6 139.4,101.9 147.8,100.5C156.3,99.0 154.9,98.3 160.6,94.1C166.2,89.9 158.4,90.6 164.8,87.7C171.2,84.9 167.6,86.0 179.6,85.6C191.6,85.3 190.2,85.6 200.8,86.7C211.4,87.7 202.2,89.2 211.4,88.8C220.6,88.5 221.3,88.8 228.4,85.6C235.4,82.4 231.9,85.6 232.6,79.3C233.3,72.9 234.7,72.9 230.5,66.6C226.3,60.2 226.3,64.4 219.9,60.2C213.5,56.0 217.1,58.1 211.4,53.8C205.8,49.6 210.0,50.0 202.9,47.5C195.9,45.0 198.0,47.1 190.2,46.4C182.5,45.7 186.7,47.5 179.6,45.4C172.6,43.2 170.4,44.3 169.0,40.1Z" fill="#d1e5f0"/>
<path d="M353.6,145.0C338.8,137.2 355.7,128.7 364.2,121.7C372.7,114.6 367.0,120.2 379.0,123.8C391.1,127.3 388.9,128.0 400.2,132.2C411.5,136.5 410.1,132.2 413.0,136.5C415.8,140.7 428.5,142.1 408.7,145.0C388.9,147.8 368.5,152.7 353.6,145.0Z" fill="#fafafa"/>
<path d="M571.7,112.1C567.5,108.9 573.3,108.9 580.4,104.7C587.4,100.5 581.6,101.5 592.9,99.4C604.1,97.3 601.7,97.3 614.1,98.3C626.4,99.4 624.7,99.0 630.0,102.6C635.3,106.1 635.3,105.4 630.0,108.9C624.7,112.5 626.4,111.4 614.1,113.2C601.7,114.9 607.0,114.6 592.9,114.2C578.7,113.9 575.9,115.3 571.7,112.1Z" fill="#fafafa"/>
<ellipse cx="618.5" cy="105.1" rx="12.7" ry="3.8" fill="#d1e5f0"/>
<ellipse cx="317.6" cy="125.9" rx="4.7" ry="4.2" fill="#fafafa"/>
<path d="M2.7,132.2C4.4,130.3 5.5,129.8 10.1,130.1C14.7,130.5 15.7,131.0 16.5,133.3C17.2,135.6 16.1,136.0 12.2,136.9C8.3,137.8 8.0,137.6 4.8,136.1C1.6,134.5 0.9,134.2 2.7,132.2Z" fill="#d1e5f0"/>
<path d="M272.9,87.7C275.0,83.2 275.7,83.5 283.5,83.5C291.2,83.5 289.8,83.9 296.2,87.7C302.5,91.6 304.0,91.3 302.5,95.2C301.1,99.0 300.4,98.7 292.0,99.4C283.5,100.1 283.5,101.2 277.1,97.3C270.8,93.4 270.8,92.3 272.9,87.7Z" fill="#fafafa"/>
<path d="M81.1,13.6C82.9,9.3 83.2,10.0 88.5,6.2C93.8,2.3 87.1,4.7 97.0,1.9C106.9,-0.9 94.2,-0.9 118.2,-2.3C142.2,-3.7 150.0,-5.5 169.0,-2.3C188.1,0.9 174.0,1.2 175.4,7.2C176.8,13.2 175.4,10.0 173.3,15.7C171.2,21.3 173.3,19.9 169.0,24.2C164.8,28.4 166.2,29.1 160.6,28.4C154.9,27.7 157.7,24.9 152.1,22.0C146.4,19.2 149.3,18.5 143.6,19.9C138.0,21.3 140.8,23.1 135.1,26.3C129.5,29.5 133.7,29.5 126.7,29.5C119.6,29.5 122.4,26.6 113.9,26.3C105.5,25.9 109.0,29.5 101.2,28.4C93.5,27.3 96.6,26.3 90.6,23.1C84.6,19.9 86.4,22.0 83.2,18.9C80.0,15.7 79.3,17.8 81.1,13.6Z" fill="#d1e5f0"/>
<path d="M91.7,9.3C92.0,5.8 91.3,6.9 93.8,4.0C96.3,1.2 91.0,2.6 99.1,0.9C107.2,-0.9 107.6,-0.9 118.2,-1.3C128.8,-1.6 124.5,-4.4 130.9,-0.2C137.2,4.0 131.6,6.2 137.2,11.5C142.9,16.8 140.1,15.0 147.8,15.7C155.6,16.4 153.5,16.4 160.6,13.6C167.6,10.7 165.5,5.8 169.0,7.2C172.6,8.6 172.6,13.2 171.2,17.8C169.7,22.4 171.2,21.1 164.8,21.0C158.4,20.8 160.6,18.8 152.1,17.4C143.6,16.0 147.1,18.0 139.4,16.8C131.6,15.5 135.1,16.4 128.8,13.6C122.4,10.7 125.2,9.3 120.3,8.3C115.3,7.2 118.2,7.9 113.9,10.4C109.7,12.9 112.5,13.4 107.6,15.7C102.6,18.0 104.0,17.7 99.1,17.4C94.2,17.0 95.2,17.3 92.7,14.6C90.3,11.9 91.3,12.9 91.7,9.3Z" fill="#92c5de"/>
<ellipse cx="39.3" cy="36.2" rx="5.9" ry="2.5" fill="#d1e5f0"/>
<ellipse cx="247.4" cy="52.1" rx="4.2" ry="1.5" fill="#92c5de"/>
<path d="M93.8,106.8C93.8,101.9 93.1,102.4 97.0,99.4C100.9,96.4 100.2,96.6 105.5,97.7C110.8,98.8 109.7,98.1 112.9,102.6C116.1,107.0 117.5,106.7 115.0,111.1C112.5,115.4 111.5,114.7 105.5,115.7C99.5,116.8 100.9,117.2 97.0,114.2C93.1,111.3 93.8,111.8 93.8,106.8Z" fill="#92c5de"/>
<path d="M184.9,119.5C183.5,116.2 182.8,116.9 190.2,114.2C197.6,111.6 194.5,111.8 207.2,111.5C219.9,111.1 216.4,113.0 228.4,113.2C240.4,113.4 234.7,111.8 243.2,112.1C251.7,112.5 244.6,112.1 253.8,114.2C263.0,116.4 262.3,114.6 270.8,118.5C279.2,122.4 278.5,121.3 279.2,125.9C279.9,130.5 281.4,129.4 272.9,132.2C264.4,135.1 265.1,134.0 253.8,134.4C242.5,134.7 247.4,136.1 239.0,133.3C230.5,130.5 237.6,128.9 228.4,125.9C219.2,122.9 222.7,124.8 211.4,124.2C200.1,123.6 203.3,125.7 194.5,124.2C185.6,122.6 186.3,122.9 184.9,119.5Z" fill="#92c5de"/>
<path d="M360.0,105.8C362.8,103.6 361.4,104.3 370.6,103.6C379.8,102.9 378.7,101.9 387.5,103.6C396.4,105.4 396.4,105.1 397.1,108.9C397.8,112.8 397.1,113.9 389.6,115.3C382.2,116.7 384.0,114.9 374.8,113.2C365.6,111.4 367.0,112.5 362.1,110.0C357.2,107.5 357.2,107.9 360.0,105.8Z" fill="#92c5de"/>
<ellipse cx="407.7" cy="119.5" rx="7.4" ry="2.8" fill="#92c5de"/>
<path d="M432.0,108.9C434.1,106.8 436.3,106.5 446.9,103.6C457.5,100.8 452.5,100.8 463.8,100.5C475.1,100.1 470.2,100.5 480.8,102.6C491.4,104.7 485.7,104.3 495.6,106.8C505.5,109.3 499.8,107.2 510.4,110.0C521.0,112.8 516.1,111.4 527.4,115.3C538.7,119.2 535.2,116.7 544.3,121.7C553.5,126.6 546.5,125.9 554.9,130.1C563.4,134.4 559.2,133.0 569.8,134.4C580.4,135.8 577.5,130.1 586.7,134.4C595.9,138.6 610.0,142.8 597.3,147.1C584.6,151.3 571.9,150.0 548.6,147.1C525.3,144.1 541.5,142.1 527.4,138.2C513.3,134.3 520.3,137.4 506.2,135.4C492.1,133.4 497.7,135.4 485.0,132.2C472.3,129.1 475.8,130.8 468.1,125.9C460.3,120.9 467.3,121.7 461.7,117.4C456.0,113.2 458.2,115.6 451.1,113.2C444.0,110.7 446.9,111.4 440.5,110.0C434.1,108.6 429.9,111.1 432.0,108.9Z" fill="#92c5de"/>
<ellipse cx="455.3" cy="125.3" rx="4.2" ry="1.5" fill="#92c5de"/>
<path d="M-4.7,-3.4C12.2,-6.3 27.0,-6.9 46.1,-3.4C65.2,0.2 46.1,1.6 52.5,7.2C58.8,12.9 59.5,9.3 65.2,13.6C70.8,17.8 70.8,17.1 69.4,19.9C68.0,22.8 67.3,22.8 61.0,22.0C54.6,21.3 58.1,20.6 50.4,17.8C42.6,15.0 47.5,16.4 37.6,13.6C27.8,10.7 30.6,12.0 20.7,9.3C10.8,6.7 16.5,6.8 8.0,5.5C-0.5,4.2 -0.5,8.5 -4.7,5.5C-9.0,2.6 -21.7,-0.4 -4.7,-3.4Z" fill="#fddbc7"/>
<path d="M18.6,64.4C19.3,58.8 16.5,57.0 22.8,51.7C29.2,46.4 27.8,50.7 37.6,48.5C47.5,46.4 41.9,48.2 52.5,45.4C63.1,42.5 58.8,42.9 69.4,40.1C80.0,37.2 76.5,39.7 84.3,36.9C92.0,34.1 84.3,34.1 92.7,31.6C101.2,29.1 98.4,29.8 109.7,29.5C121.0,29.1 118.2,28.1 126.7,30.5C135.1,33.0 130.9,31.2 135.1,36.9C139.4,42.5 140.8,41.8 139.4,47.5C138.0,53.1 135.8,49.6 130.9,53.8C125.9,58.1 128.8,56.0 124.5,60.2C120.3,64.4 124.5,62.3 118.2,66.6C111.8,70.8 114.6,69.7 105.5,72.9C96.3,76.1 101.2,74.7 90.6,76.1C80.0,77.5 86.4,77.9 73.7,77.1C61.0,76.4 66.6,75.7 52.5,74.0C38.4,72.2 41.9,73.6 31.3,71.9C20.7,70.1 24.9,71.1 20.7,68.7C16.5,66.2 17.9,70.1 18.6,64.4Z" fill="#fddbc7"/>
<path d="M-4.7,77.1C0.2,73.6 1.6,75.4 10.1,76.1C18.6,76.8 17.9,76.4 20.7,79.3C23.5,82.1 22.8,81.7 18.6,84.6C14.3,87.4 15.7,87.0 8.0,87.7C0.2,88.5 -0.5,90.2 -4.7,86.7C-9.0,83.2 -9.7,80.7 -4.7,77.1Z" fill="#fddbc7"/>
<path d="M50.4,62.3C51.1,59.1 48.2,59.5 54.6,56.0C61.0,52.4 59.5,54.9 69.4,51.7C79.3,48.5 74.4,50.3 84.3,46.4C94.2,42.5 89.2,42.9 99.1,40.1C109.0,37.2 105.5,37.2 113.9,37.9C122.4,38.7 120.3,38.7 124.5,42.2C128.8,45.7 127.4,43.9 126.7,48.5C125.9,53.1 126.7,51.4 122.4,56.0C118.2,60.5 121.0,59.1 113.9,62.3C106.9,65.5 111.1,63.7 101.2,65.5C91.3,67.3 97.0,67.1 84.3,67.6C71.6,68.1 73.7,67.7 63.1,67.0C52.5,66.3 56.7,67.0 52.5,65.5C48.2,63.9 49.7,65.5 50.4,62.3Z" fill="#f4a582"/>
<path d="M73.7,60.2C74.4,57.4 72.3,58.1 77.9,54.9C83.6,51.7 81.4,52.8 90.6,50.7C99.8,48.5 97.0,48.8 105.5,48.5C113.9,48.3 111.8,47.9 116.1,50.0C120.3,52.1 119.6,51.5 118.2,54.9C116.8,58.3 118.2,57.4 111.8,60.2C105.5,63.0 108.3,62.0 99.1,63.4C89.9,64.8 92.0,64.4 84.3,64.4C76.5,64.4 79.3,64.8 75.8,63.4C72.3,62.0 73.0,63.0 73.7,60.2Z" fill="#d6604d"/>
<path d="M183.9,15.7C184.6,12.0 183.9,11.8 190.2,7.2C196.6,2.6 192.3,5.4 202.9,1.9C213.5,-1.6 199.4,-1.6 222.0,-3.4C244.6,-5.1 260.2,-6.2 270.8,-3.4C281.4,-0.6 265.1,0.9 253.8,5.1C242.5,9.3 247.4,6.2 236.9,9.3C226.3,12.5 233.3,11.8 222.0,14.6C210.7,17.5 214.2,16.6 202.9,17.8C191.6,19.0 194.5,18.9 188.1,18.2C181.8,17.5 183.2,19.4 183.9,15.7Z" fill="#fddbc7"/>
<path d="M479.7,21.0C481.1,19.4 483.2,20.3 489.2,17.8C495.3,15.3 493.5,17.1 497.7,13.6C502.0,10.0 497.7,11.1 502.0,7.2C506.2,3.3 501.3,5.1 510.4,1.9C519.6,-1.3 526.7,-4.1 529.5,-2.3C532.3,-0.6 523.2,2.3 518.9,7.2C514.7,12.2 514.0,10.4 516.8,12.5C519.6,14.6 522.4,11.1 527.4,13.6C532.3,16.0 526.0,17.5 531.6,19.9C537.3,22.4 539.4,19.6 544.3,21.0C549.3,22.4 548.6,22.4 546.5,24.2C544.3,25.9 543.6,27.0 538.0,26.3C532.3,25.6 535.9,24.5 529.5,22.0C523.2,19.6 526.7,20.3 518.9,18.9C511.1,17.5 514.0,16.9 506.2,17.8C498.4,18.7 502.7,20.1 495.6,21.6C488.5,23.2 490.3,22.7 485.0,22.5C479.7,22.3 478.3,22.5 479.7,21.0Z" fill="#fddbc7"/>
<path d="M559.2,-0.2C575.4,-2.7 603.7,-3.0 614.3,-1.3C624.9,0.5 604.4,1.9 591.0,5.1C577.5,8.3 582.5,7.9 574.0,8.3C565.5,8.6 570.5,9.0 565.5,6.2C560.6,3.3 542.9,2.3 559.2,-0.2Z" fill="#fddbc7"/>
<path d="M602.6,41.1C601.2,39.7 604.7,40.8 612.2,39.0C619.6,37.2 619.9,39.0 624.9,35.8C629.8,32.6 622.8,32.1 627.0,29.5C631.2,26.9 634.1,22.9 637.6,28.0C641.1,33.1 644.7,39.6 637.6,44.7C630.5,49.8 628.1,44.4 616.4,43.2C604.7,42.0 604.0,42.5 602.6,41.1Z" fill="#fddbc7"/>
<path d="M569.8,19.9C570.5,17.2 571.2,18.0 580.4,15.7C589.6,13.4 589.6,13.1 597.3,13.1C605.1,13.1 598.7,17.0 603.7,15.7C608.6,14.4 600.9,13.2 612.2,9.3C623.5,5.4 629.1,0.5 637.6,4.0C646.1,7.6 644.7,13.9 637.6,19.9C630.5,25.9 627.7,23.1 616.4,22.0C605.1,21.0 612.2,17.1 603.7,16.8C595.2,16.4 599.4,18.7 591.0,21.0C582.5,23.3 585.3,24.1 578.3,23.7C571.2,23.4 569.1,22.6 569.8,19.9Z" fill="#d1e5f0"/>
<use href="#coast"/>
<path d="M-4.7,38.6C3.7,39.8 5.2,39.6 20.7,42.2C36.2,44.8 25.6,44.2 41.9,46.4C58.1,48.6 51.8,48.2 69.4,48.8C87.1,49.3 78.6,48.5 94.9,48.1C111.1,47.7 106.2,47.3 118.2,47.5C130.2,47.6 128.1,47.5 130.9,48.5C133.7,49.6 124.5,47.8 126.7,50.7C128.8,53.5 130.2,52.2 137.2,57.0C144.3,61.8 145.0,61.2 147.8,65.1C150.7,69.0 151.4,65.9 145.7,68.7C140.1,71.4 141.5,70.5 130.9,73.3C120.3,76.2 127.4,74.8 113.9,77.1C100.5,79.5 105.5,78.8 90.6,80.3C75.8,81.9 85.7,81.8 69.4,81.8C53.2,81.8 58.1,82.2 41.9,80.3C25.6,78.4 36.2,80.1 20.7,76.1C5.2,72.1 3.7,70.9 -4.7,68.2" fill="none" stroke="#000" stroke-width="1.8"/>
<path d="M33.4,60.2C33.8,57.0 31.6,58.1 36.6,53.8C41.5,49.6 39.4,51.4 48.2,47.5C57.1,43.6 52.5,45.0 63.1,42.2C73.7,39.4 69.4,40.1 80.0,39.0C90.6,37.9 85.0,37.9 94.9,39.0C104.8,40.1 100.5,39.7 109.7,42.2C118.9,44.7 116.8,43.6 122.4,46.4C128.1,49.2 126.7,47.1 126.7,50.7C126.7,54.2 126.7,53.1 122.4,57.0C118.2,60.9 121.0,59.3 113.9,62.3C106.9,65.4 111.1,64.4 101.2,66.1C91.3,67.9 97.0,67.1 84.3,67.6C71.6,68.1 75.8,68.1 63.1,67.6C50.4,67.1 55.3,67.5 46.1,66.1C36.9,64.7 39.8,65.4 35.5,63.4C31.3,61.4 33.1,63.4 33.4,60.2Z" fill="none" stroke="#ff0000" stroke-width="1.8"/>
<path d="M279.2,-2.3C270.8,0.5 269.3,1.2 253.8,6.2C238.3,11.1 246.7,9.0 232.6,12.5C218.5,16.0 224.1,14.8 211.4,16.8C198.7,18.7 203.8,18.4 194.5,18.4C185.1,18.5 185.2,20.7 183.4,17.0C181.7,13.2 183.4,12.0 189.2,7.2C195.0,2.4 192.7,5.7 200.8,2.6C208.9,-0.6 209.3,-0.7 213.5,-2.3" fill="none" stroke="#ff0000" stroke-width="1.8"/>
<path d="M236.2,-2.3C235.7,0.2 233.8,0.9 234.7,5.1C235.7,9.3 232.6,7.2 239.0,10.4C245.3,13.6 241.8,13.2 253.8,14.6C265.8,16.0 260.9,15.7 275.0,14.6C289.1,13.6 284.2,13.9 296.2,11.5C308.2,9.0 304.7,10.0 311.0,7.2C317.4,4.4 314.7,6.2 315.3,3.0C315.8,-0.2 313.6,-0.6 312.7,-2.3" fill="none" stroke="#000" stroke-width="1.8"/>
<path d="M148.9,93.7C148.9,92.3 148.2,91.8 156.3,93.3C164.4,94.7 169.7,96.0 173.3,97.9C176.8,99.8 172.6,99.2 166.9,99.0C161.3,98.8 162.3,99.0 156.3,97.3C150.3,95.5 148.9,95.0 148.9,93.7Z" fill="none" stroke="#ff0000" stroke-width="1.8"/>
<path d="M538.0,111.5C539.4,109.9 542.2,111.0 552.8,108.9C563.4,106.9 559.9,108.2 569.8,105.3C579.7,102.5 572.6,103.0 582.5,100.5C592.4,97.9 588.1,98.4 599.4,97.7C610.7,97.0 606.9,96.7 616.4,98.3C625.9,100.0 623.5,98.7 628.1,102.6C632.6,106.5 631.2,105.4 630.2,110.0C629.1,114.6 632.3,113.3 624.9,116.4C617.5,119.4 620.6,118.4 607.9,119.1C595.2,119.8 600.9,119.6 586.7,118.5C572.6,117.3 578.3,117.3 565.5,115.7C552.8,114.1 557.8,115.0 548.6,113.6C539.4,112.2 536.6,113.0 538.0,111.5Z" fill="none" stroke="#0000ff" stroke-width="1.8"/>
</g>
<use href="#frame"/>
</g>
<g transform="translate(845.0,45.6)">
<g clip-path="url(#pc)"><rect x="0" y="0" width="633.4" height="140.6" fill="#fafafa"/>
<path d="M-4.2,0.9C4.2,-6.2 9.2,-3.7 21.2,-2.3C33.2,-0.9 27.5,0.5 31.8,5.1C36.0,9.7 36.0,7.2 33.9,11.5C31.8,15.7 32.5,14.3 25.4,17.8C18.4,21.3 22.6,21.7 12.7,22.0C2.8,22.4 1.4,25.9 -4.2,18.9C-9.9,11.8 -12.7,7.9 -4.2,0.9Z" fill="#d1e5f0"/>
<path d="M25.4,32.6C26.8,28.4 26.1,29.1 33.9,24.2C41.7,19.2 38.9,21.0 48.7,17.8C58.6,14.6 56.5,14.3 63.6,14.6C70.6,15.0 64.3,17.1 69.9,18.9C75.6,20.6 72.1,21.3 80.5,19.9C89.0,18.5 85.5,17.8 95.4,14.6C105.3,11.5 100.3,10.7 110.2,10.4C120.1,10.0 118.0,9.7 125.0,13.6C132.1,17.5 130.7,16.4 131.4,22.0C132.1,27.7 132.8,26.3 127.2,30.5C121.5,34.8 125.0,31.6 114.4,34.8C103.8,37.9 106.7,37.6 95.4,40.1C84.1,42.5 89.0,43.2 80.5,42.2C72.1,41.1 75.6,37.6 69.9,36.9C64.3,36.2 69.2,38.3 63.6,40.1C57.9,41.8 60.8,42.2 53.0,42.2C45.2,42.2 48.0,41.8 40.3,40.1C32.5,38.3 34.6,39.4 29.7,36.9C24.7,34.4 24.0,36.9 25.4,32.6Z" fill="#d1e5f0"/>
<path d="M235.2,49.6C236.6,43.9 239.5,43.9 243.7,36.9C247.9,29.8 240.9,32.6 247.9,28.4C255.0,24.2 252.2,24.9 264.9,24.2C277.6,23.5 272.0,24.9 286.1,26.3C300.2,27.7 296.0,27.3 307.3,28.4C318.6,29.5 310.0,27.7 320.0,29.5C330.0,31.2 324.4,30.9 337.2,33.7C350.0,36.5 347.8,35.5 358.4,37.9C369.0,40.4 369.0,39.4 369.0,41.1C369.0,42.9 369.0,42.9 358.4,43.2C347.8,43.6 348.5,40.8 337.2,42.2C325.9,43.6 331.5,43.6 324.5,47.5C317.4,51.4 325.2,51.4 316.0,53.8C306.7,56.3 310.2,55.6 296.7,54.9C283.2,54.2 289.6,53.1 275.5,51.7C261.4,50.3 266.3,50.0 254.3,50.7C242.3,51.4 245.8,54.2 239.5,53.8C233.1,53.5 233.8,55.3 235.2,49.6Z" fill="#d1e5f0"/>
<path d="M72.1,147.1C24.7,142.1 75.6,140.0 84.8,132.2C94.0,124.5 88.3,129.1 99.6,123.8C110.9,118.5 106.0,119.5 118.7,116.4C131.4,113.2 124.3,113.2 137.7,114.2C151.2,115.3 144.8,115.6 158.9,119.5C173.1,123.4 166.0,121.7 180.1,125.9C194.3,130.1 187.2,128.7 201.3,132.2C215.5,135.8 214.0,131.5 222.5,136.5C231.0,141.4 276.9,143.6 226.8,147.1C176.6,150.6 119.4,152.0 72.1,147.1Z" fill="#d1e5f0"/>
<path d="M80.5,147.1C39.6,142.5 82.6,140.4 91.1,133.3C99.6,126.2 95.4,130.1 106.0,125.9C116.6,121.7 112.3,122.7 122.9,120.6C133.5,118.5 126.4,118.5 137.7,119.5C149.1,120.6 144.1,120.2 156.8,123.8C169.5,127.3 163.2,126.2 175.9,130.1C188.6,134.0 182.3,129.8 195.0,135.4C207.7,141.1 252.2,143.2 214.0,147.1C175.9,151.0 121.5,151.7 80.5,147.1Z" fill="#92c5de"/>
<ellipse cx="106" cy="131.8" rx="9" ry="2.6" fill="#4393c3" transform="rotate(-14 106 131.8)"/>
<path d="M227.8,113.2C229.2,108.9 225.7,110.0 233.1,106.8C240.5,103.6 237.4,104.3 250.1,103.6C262.8,102.9 259.2,105.8 271.3,104.7C283.3,103.6 276.2,102.6 286.1,100.5C296.0,98.3 288.9,98.3 300.9,98.3C312.9,98.3 315.1,84.2 322.1,100.5C329.2,116.7 327.8,131.5 322.1,147.1C316.5,162.6 313.6,152.7 305.2,147.1C296.7,141.4 303.8,138.6 296.7,130.1C289.6,121.7 292.5,123.8 284.0,121.7C275.5,119.5 281.1,123.8 271.3,123.8C261.4,123.8 264.9,121.7 254.3,121.7C243.7,121.7 247.9,124.5 239.5,123.8C231.0,123.1 232.8,123.1 228.9,119.5C225.0,116.0 226.4,117.4 227.8,113.2Z" fill="#d1e5f0"/>
<path d="M240.5,111.1C243.4,107.5 242.6,107.5 250.1,106.8C257.5,106.1 257.1,106.1 262.8,108.9C268.4,111.8 268.4,111.4 267.0,115.3C265.6,119.2 264.9,118.5 258.5,120.6C252.2,122.7 253.6,122.7 247.9,121.7C242.3,120.6 244.1,120.9 241.6,117.4C239.1,113.9 237.7,114.6 240.5,111.1Z" fill="#92c5de"/>
<path d="M273.4,108.9C275.5,105.8 276.2,104.3 284.0,105.8C291.7,107.2 290.3,107.2 296.7,113.2C303.0,119.2 300.2,117.4 303.0,123.8C305.9,130.1 307.3,130.1 305.2,132.2C303.0,134.4 302.3,133.7 296.7,130.1C291.0,126.6 294.6,126.6 288.2,121.7C281.9,116.7 282.6,119.5 277.6,115.3C272.7,111.1 271.3,112.1 273.4,108.9Z" fill="#92c5de"/>
<path d="M309.4,147.1C304.0,142.1 308.3,138.6 310.5,132.2C312.6,125.9 311.2,128.7 315.8,128.0C320.4,127.3 320.6,123.8 324.2,130.1C327.8,136.5 331.5,141.4 326.6,147.1C321.6,152.7 314.8,152.0 309.4,147.1Z" fill="#92c5de"/>
<path d="M-4.2,34.8C-0.7,15.0 1.4,34.1 6.4,36.9C11.3,39.7 5.7,39.7 10.6,43.2C15.5,46.8 10.6,45.2 21.2,47.5C31.8,49.7 31.1,47.2 42.4,50.0C53.7,52.8 46.6,51.9 55.1,56.0C63.6,60.1 59.3,62.3 67.8,62.3C76.3,62.3 71.3,59.5 80.5,56.0C89.7,52.4 82.6,53.8 95.4,51.7C108.1,49.6 104.5,52.4 118.7,49.6C132.8,46.8 125.0,46.4 137.7,43.2C150.5,40.1 146.2,42.9 156.8,40.1C167.4,37.2 160.4,37.2 169.5,34.8C178.7,32.3 173.8,32.3 184.4,32.6C195.0,33.0 192.1,32.3 201.3,35.8C210.5,39.4 204.9,37.9 211.9,43.2C219.0,48.5 215.5,46.1 222.5,51.7C229.6,57.4 223.9,55.6 233.1,60.2C242.3,64.8 239.5,62.7 250.1,65.5C260.7,68.3 257.1,64.1 264.9,68.7C272.7,73.3 272.0,72.2 273.4,79.3C274.8,86.3 275.5,84.2 269.1,89.9C262.8,95.5 266.3,94.5 254.3,96.2C242.3,98.0 245.8,95.9 233.1,95.2C220.4,94.5 220.4,96.6 216.2,94.1C211.9,91.6 214.7,91.3 220.4,87.7C226.0,84.2 229.6,87.0 233.1,83.5C236.6,80.0 237.4,80.0 231.0,77.1C224.6,74.3 223.2,74.3 214.0,75.0C204.9,75.7 211.2,76.4 203.4,79.3C195.7,82.1 199.9,80.7 190.7,83.5C181.5,86.3 185.8,84.2 175.9,87.7C166.0,91.3 168.8,89.2 161.1,94.1C153.3,99.0 162.5,98.3 152.6,102.6C142.7,106.8 144.1,104.3 131.4,106.8C118.7,109.3 126.4,110.0 114.4,110.0C102.4,110.0 106.7,107.9 95.4,106.8C84.1,105.8 89.0,104.7 80.5,106.8C72.1,108.9 77.0,108.9 69.9,113.2C62.9,117.4 68.5,117.4 59.3,119.5C50.2,121.7 53.0,121.7 42.4,119.5C31.8,117.4 37.4,118.1 27.5,113.2C17.7,108.2 23.3,110.3 12.7,104.7C2.1,99.0 1.4,119.5 -4.2,96.2C-9.9,72.9 -7.8,54.5 -4.2,34.8Z" fill="#fddbc7"/>
<path d="M146.2,45.4C149.8,42.2 152.6,42.2 156.8,44.3C161.1,46.4 160.4,47.1 158.9,51.7C157.5,56.3 156.8,57.4 152.6,58.1C148.3,58.8 148.3,58.1 146.2,53.8C144.1,49.6 142.7,48.5 146.2,45.4Z" fill="#fafafa"/>
<path d="M169.5,66.6C173.4,62.3 173.1,63.0 180.1,60.2C187.2,57.4 183.0,58.1 190.7,58.1C198.5,58.1 200.6,56.7 203.4,60.2C206.3,63.7 203.4,64.4 199.2,68.7C195.0,72.9 197.1,70.1 190.7,72.9C184.4,75.7 186.5,75.0 180.1,77.1C173.8,79.3 175.5,80.7 171.7,79.3C167.8,77.9 169.2,77.1 168.5,72.9C167.8,68.7 165.7,70.8 169.5,66.6Z" fill="#fafafa"/>
<path d="M172.7,43.2C176.2,39.9 176.2,41.2 184.4,41.5C192.5,41.9 190.7,42.3 197.1,44.3C203.4,46.3 203.4,44.7 203.4,47.5C203.4,50.3 202.7,50.0 197.1,52.8C191.4,55.6 192.8,54.5 186.5,56.0C180.1,57.4 182.3,58.4 178.0,57.0C173.8,55.6 175.5,56.3 173.8,51.7C172.0,47.1 169.2,46.6 172.7,43.2Z" fill="#f4a582"/>
<ellipse cx="154.1" cy="90.3" rx="7.0" ry="2.3" fill="#f4a582"/>
<path d="M238.4,87.7C240.2,84.6 239.1,84.2 245.8,83.5C252.5,82.8 251.5,83.2 258.5,85.6C265.6,88.1 266.3,87.7 267.0,90.9C267.7,94.1 267.0,93.4 260.7,95.2C254.3,96.9 254.7,96.9 247.9,96.2C241.2,95.5 243.7,95.9 240.5,93.0C237.4,90.2 236.6,90.9 238.4,87.7Z" fill="#f4a582"/>
<path d="M169.5,-2.3C210.5,-5.1 263.5,-5.9 298.8,-3.4C334.1,-0.9 290.3,1.4 275.5,5.1C260.7,8.8 268.4,6.2 254.3,7.6C240.2,9.1 247.2,9.5 233.1,9.3C219.0,9.2 226.0,8.3 211.9,7.2C197.8,6.2 202.7,6.9 190.7,6.2C178.7,5.4 183.0,7.9 175.9,5.1C168.8,2.3 128.6,0.5 169.5,-2.3Z" fill="#fddbc7"/>
<ellipse cx="250.1" cy="0.9" rx="14.8" ry="3.0" fill="#f4a582"/>
<path d="M395.4,28.4C394.7,25.6 394.7,26.6 405.0,24.2C415.2,21.7 412.0,23.8 426.2,21.0C440.3,18.2 433.2,18.5 447.4,15.7C461.5,12.9 454.4,15.0 468.6,12.5C482.7,10.0 477.0,11.1 489.7,8.3C502.5,5.4 494.0,6.9 506.7,4.0C519.4,1.2 509.5,1.2 527.9,-0.2C546.3,-1.6 554.7,-2.7 561.8,-0.2C568.9,2.3 560.4,3.7 549.1,7.2C537.8,10.7 542.0,7.9 527.9,10.4C513.8,12.9 520.8,11.8 506.7,14.6C492.6,17.5 499.6,15.7 485.5,18.9C471.4,22.0 478.4,20.6 464.3,24.2C450.2,27.7 455.8,26.3 443.1,29.5C430.4,32.6 438.2,32.6 426.2,33.7C414.2,34.8 417.3,34.4 407.1,32.6C396.9,30.9 396.2,31.2 395.4,28.4Z" fill="#d1e5f0"/>
<ellipse cx="563.9" cy="48.5" rx="12.7" ry="4.2" fill="#d1e5f0"/>
<path d="M621.1,16.8 L633.9,18.2 L633.9,24.2 L625.4,21.6Z" fill="#d1e5f0"/>
<ellipse cx="624.5" cy="38.4" rx="5.5" ry="1.5" fill="#d1e5f0"/>
<path d="M552.3,96.2C554.4,91.3 552.3,92.0 561.8,89.9C571.3,87.7 571.0,87.7 580.9,89.9C590.8,92.0 589.4,91.3 591.5,96.2C593.6,101.2 591.5,99.4 587.2,104.7C583.0,110.0 585.8,110.0 578.8,112.1C571.7,114.2 573.8,113.5 566.0,111.1C558.3,108.6 560.0,109.6 555.4,104.7C550.9,99.8 550.1,101.2 552.3,96.2Z" fill="#d1e5f0"/>
<path d="M599.9,83.5C603.5,80.0 599.9,80.8 612.7,79.3C625.4,77.7 629.6,56.2 638.1,78.8C646.6,101.4 671.3,124.3 638.1,147.1C604.9,169.8 570.3,153.4 538.5,147.1C506.7,140.7 537.8,135.8 542.7,128.0C547.7,120.2 544.1,124.8 553.3,123.8C562.5,122.7 559.0,122.7 570.3,124.8C581.6,127.0 576.6,129.8 587.2,130.1C597.8,130.5 590.8,129.4 602.1,125.9C613.4,122.4 613.4,123.8 621.1,119.5C628.9,115.3 626.8,116.7 625.4,113.2C624.0,109.6 623.3,112.5 616.9,108.9C610.5,105.4 607.7,107.5 606.3,102.6C604.9,97.6 614.1,98.3 612.7,94.1C611.2,89.9 606.3,93.4 602.1,89.9C597.8,86.3 596.4,87.0 599.9,83.5Z" fill="#d1e5f0"/>
<path d="M311.7,106.8C317.4,94.8 318.1,107.5 328.7,111.1C339.3,114.6 333.6,113.9 343.5,117.4C353.4,120.9 354.1,116.7 358.4,121.7C362.6,126.6 360.5,123.8 356.2,132.2C352.0,140.7 360.5,142.1 345.6,147.1C330.8,152.0 323.0,160.5 311.7,147.1C300.4,133.7 306.1,118.8 311.7,106.8Z" fill="#d1e5f0"/>
<path d="M311.7,128.0C315.3,122.4 317.0,126.6 322.3,130.1C327.6,133.7 326.2,133.0 327.6,138.6C329.0,144.3 331.9,144.3 326.6,147.1C321.3,149.9 316.7,153.4 311.7,147.1C306.8,140.7 308.2,133.7 311.7,128.0Z" fill="#92c5de"/>
<path d="M311.7,94.1C315.3,90.6 317.4,89.9 332.9,87.7C348.5,85.6 339.3,87.0 358.4,87.7C377.4,88.5 372.5,89.9 390.1,89.9C407.8,89.9 400.7,89.9 411.3,87.7C421.9,85.6 414.2,86.3 421.9,83.5C429.7,80.7 425.5,80.3 434.6,79.3C443.8,78.2 442.8,77.5 449.5,80.3C456.2,83.2 455.5,82.4 454.8,87.7C454.1,93.0 452.0,89.9 447.4,96.2C442.8,102.6 442.4,99.8 441.0,106.8C439.6,113.9 438.9,111.8 443.1,117.4C447.4,123.1 443.1,119.5 453.7,123.8C464.3,128.0 460.8,125.9 474.9,130.1C489.0,134.4 484.8,130.8 496.1,136.5C507.4,142.1 538.5,143.6 508.8,147.1C479.2,150.6 439.6,152.7 407.1,147.1C374.6,141.4 413.5,137.2 411.3,130.1C409.2,123.1 409.2,128.7 400.7,125.9C392.3,123.1 396.5,125.2 385.9,121.7C375.3,118.1 379.5,118.8 369.0,115.3C358.4,111.8 364.7,115.3 354.1,111.1C343.5,106.8 347.8,106.8 337.2,102.6C326.6,98.3 330.8,101.2 322.3,98.3C313.9,95.5 308.2,97.6 311.7,94.1Z" fill="#fddbc7"/>
<path d="M336.1,100.5C336.1,97.3 338.2,98.3 347.8,98.3C357.3,98.3 352.0,99.0 364.7,100.5C377.4,101.9 374.3,100.5 385.9,102.6C397.6,104.7 395.4,102.6 399.7,106.8C403.9,111.1 401.8,110.7 398.6,115.3C395.4,119.9 397.2,119.9 390.1,120.6C383.1,121.3 386.6,119.9 377.4,117.4C368.2,114.9 372.5,116.4 362.6,113.2C352.7,110.0 356.6,112.1 347.8,107.9C338.9,103.6 336.1,103.6 336.1,100.5Z" fill="#f4a582"/>
<path d="M579.8,16.8C579.8,15.0 582.6,15.7 589.4,11.5C596.1,7.2 592.2,7.9 599.9,4.0C607.7,0.2 599.9,1.2 612.7,-0.2C625.4,-1.6 629.6,-2.7 638.1,-0.2C646.6,2.3 646.6,4.4 638.1,7.2C629.6,10.0 625.4,6.9 612.7,8.3C599.9,9.7 607.7,8.6 599.9,11.5C592.2,14.3 596.1,15.0 589.4,16.8C582.6,18.5 579.8,18.5 579.8,16.8Z" fill="#fddbc7"/>
<ellipse cx="484.5" cy="31.0" rx="11.7" ry="1.5" fill="#fddbc7"/>
<use href="#coast"/>
<path d="M-4.2,27.6C2.8,28.5 4.2,27.8 17.0,30.5C29.7,33.3 22.6,32.3 33.9,35.8C45.2,39.4 38.9,37.9 50.9,41.1C62.9,44.3 57.2,43.4 69.9,45.4C82.6,47.3 75.6,47.1 89.0,47.1C102.4,47.1 96.1,47.2 110.2,45.4C124.3,43.5 117.3,43.3 131.4,41.5C145.5,39.8 138.5,40.6 152.6,40.1C166.7,39.6 161.1,39.4 173.8,40.1C186.5,40.8 180.1,39.7 190.7,42.2C201.3,44.7 197.8,42.9 205.6,47.5C213.3,52.1 210.6,50.3 214.0,56.0C217.4,61.6 216.4,59.5 215.7,64.4C215.0,69.4 217.4,67.4 211.9,70.8C206.4,74.2 208.4,72.1 199.2,74.6C190.0,77.1 192.1,75.9 184.4,78.2C176.6,80.5 180.8,78.6 175.9,81.4C170.9,84.2 175.2,83.3 169.5,86.7C163.9,90.1 167.4,89.1 158.9,91.6C150.5,94.0 154.7,91.8 144.1,94.1C133.5,96.4 139.9,94.8 127.2,98.3C114.4,101.9 120.1,101.5 106.0,104.7C91.8,107.9 100.3,106.8 84.8,107.9C69.2,108.9 74.2,108.6 59.3,107.9C44.5,107.2 48.6,107.9 40.3,105.8C31.9,103.6 33.6,106.1 34.3,101.5C35.0,96.9 35.5,98.0 42.4,92.0C49.3,86.0 47.7,88.8 55.1,83.5C62.5,78.2 60.8,81.0 64.6,76.1C68.5,71.1 68.5,72.9 66.8,68.7C65.0,64.4 67.5,66.2 59.3,63.4C51.2,60.5 55.1,62.0 42.4,60.2C29.7,58.4 36.7,59.2 21.2,58.1C5.7,56.9 4.2,57.2 -4.2,56.8" fill="none" stroke="#000" stroke-width="1.8"/>
<path d="M-4.2,49.0C4.2,49.3 5.7,49.1 21.2,50.0C36.7,50.9 32.8,50.4 42.4,51.7C51.9,53.0 47.0,52.1 49.8,53.8C52.6,55.6 52.3,54.2 50.9,57.0C49.4,59.8 51.9,59.5 45.6,62.3C39.2,65.1 42.7,63.9 31.8,65.5C20.8,67.0 24.7,66.6 12.7,67.0C0.7,67.3 1.4,66.7 -4.2,66.6" fill="none" stroke="#ff0000" stroke-width="1.8"/>
<path d="M145.8,9.3C147.2,6.7 145.4,7.9 150.5,7.9C155.5,7.9 155.4,7.1 161.1,9.3C166.7,11.6 166.0,10.7 167.4,14.6C168.8,18.5 168.8,18.2 165.3,21.0C161.8,23.8 162.1,23.1 156.8,23.1C151.5,23.1 152.9,23.5 149.4,21.0C145.9,18.5 147.4,19.6 146.2,15.7C145.0,11.8 144.4,11.9 145.8,9.3Z" fill="none" stroke="#ff0000" stroke-width="1.8"/>
<path d="M148.3,31.6C148.3,29.1 148.3,29.1 152.6,28.4C156.8,27.7 155.8,27.7 161.1,29.5C166.4,31.2 168.5,31.6 168.5,33.7C168.5,35.8 166.4,35.1 161.1,35.8C155.8,36.5 156.8,37.2 152.6,35.8C148.3,34.4 148.3,34.1 148.3,31.6Z" fill="none" stroke="#ff0000" stroke-width="1.8"/>
<path d="M188.6,-2.3C186.5,0.5 181.5,1.9 182.3,6.2C183.0,10.4 180.8,7.2 190.7,10.4C200.6,13.6 197.8,12.9 211.9,15.7C226.0,18.5 219.0,17.3 233.1,18.9C247.2,20.4 240.2,19.9 254.3,20.4C268.4,20.8 262.8,21.2 275.5,20.4C288.2,19.5 284.0,20.4 292.5,17.8C300.9,15.2 297.7,16.0 300.9,12.5C304.1,9.0 299.9,10.0 302.0,7.2C304.1,4.4 302.7,7.2 307.3,4.0C311.9,0.9 312.9,-0.2 315.8,-2.3" fill="none" stroke="#0000ff" stroke-width="1.8"/>
<path d="M354.1,96.2C356.2,94.1 356.2,94.3 364.7,93.0C373.2,91.8 369.0,92.1 379.5,92.4C390.1,92.8 390.1,92.1 396.5,94.1C402.9,96.1 402.2,96.4 398.6,98.3C395.1,100.3 395.8,99.3 385.9,100.0C376.0,100.7 378.1,100.7 369.0,100.5C359.8,100.2 363.3,100.8 358.4,99.4C353.4,98.0 352.0,98.3 354.1,96.2Z" fill="none" stroke="#0000ff" stroke-width="1.8"/>
<path d="M445.2,145.0C447.4,142.5 445.2,140.5 451.6,137.5C458.0,134.6 455.1,136.1 464.3,136.1C473.5,136.1 470.0,134.9 479.2,137.5C488.3,140.2 487.6,141.8 491.9,143.9" fill="none" stroke="#0000ff" stroke-width="1.8"/>
<path d="M353.1,112.1 L361.5,108.5 L367.9,108.9 L360.5,112.8Z" fill="none" stroke="#0000ff" stroke-width="2"/>
</g>
<use href="#frame"/>
</g>
<g transform="translate(845.0,278.6)">
<g clip-path="url(#pc)"><rect x="0" y="0" width="633.4" height="140.6" fill="#fafafa"/>
<path d="M-4.2,-4.4C110.9,-10.8 227.8,-7.3 341.2,-4.4C454.6,-1.6 339.4,-0.6 335.9,4.0C332.4,8.6 335.9,5.8 330.6,9.3C325.3,12.9 327.8,12.5 320.0,14.6C312.2,16.8 318.6,15.7 307.3,15.7C296.0,15.7 301.6,14.6 286.1,14.6C270.6,14.6 273.4,13.2 260.7,15.7C247.9,18.2 253.6,17.5 247.9,22.0C242.3,26.6 248.7,28.1 243.7,29.5C238.8,30.9 243.7,29.1 233.1,26.3C222.5,23.5 226.0,22.4 211.9,21.0C197.8,19.6 203.4,21.0 190.7,22.0C178.0,23.1 180.8,25.6 173.8,24.2C166.7,22.8 173.8,19.9 169.5,17.8C165.3,15.7 166.7,17.5 161.1,17.8C155.4,18.2 157.5,19.6 152.6,18.9C147.6,18.2 150.5,19.6 146.2,15.7C142.0,11.8 144.8,11.1 139.9,7.2C134.9,3.3 137.0,3.0 131.4,4.0C125.7,5.1 130.0,9.3 122.9,10.4C115.8,11.5 120.1,9.7 110.2,7.2C100.3,4.7 103.1,4.0 93.2,3.0C83.4,1.9 88.3,2.6 80.5,4.0C72.8,5.4 75.6,5.1 69.9,7.2C64.3,9.3 68.5,7.6 63.6,10.4C58.6,13.2 62.2,14.6 55.1,15.7C48.0,16.8 53.7,13.6 42.4,13.6C31.1,13.6 36.7,15.3 21.2,15.7C5.7,16.0 4.2,21.3 -4.2,14.6C-12.7,7.9 -119.4,1.9 -4.2,-4.4Z" fill="#d1e5f0"/>
<path d="M131.4,-1.3C136.3,-3.4 141.3,-3.7 148.3,-1.3C155.4,1.2 152.6,1.9 152.6,6.2C152.6,10.4 152.6,10.0 148.3,11.5C144.1,12.9 144.8,12.5 139.9,10.4C134.9,8.3 136.3,9.0 133.5,5.1C130.7,1.2 126.4,0.9 131.4,-1.3Z" fill="#fafafa"/>
<ellipse cx="12.1" cy="7.6" rx="7.0" ry="3.4" fill="#92c5de"/>
<ellipse cx="165.7" cy="6.4" rx="2.8" ry="1.3" fill="#92c5de"/>
<path d="M59.3,76.1C60.0,71.9 58.6,71.9 63.6,66.6C68.5,61.3 65.0,63.7 74.2,60.2C83.4,56.7 80.5,58.8 91.1,56.0C101.7,53.1 96.8,53.5 106.0,51.7C115.1,50.0 110.9,49.6 118.7,50.7C126.4,51.7 123.6,51.0 129.3,54.9C134.9,58.8 134.6,57.7 135.6,62.3C136.7,66.9 135.3,64.4 132.5,68.7C129.6,72.9 133.2,71.5 127.2,75.0C121.1,78.6 123.6,76.4 114.4,79.3C105.3,82.1 109.5,81.7 99.6,83.5C89.7,85.3 94.7,84.9 84.8,84.6C74.9,84.2 77.7,84.2 69.9,82.4C62.2,80.7 65.0,81.4 61.5,79.3C57.9,77.1 58.6,80.3 59.3,76.1Z" fill="#d1e5f0"/>
<path d="M89.0,67.6C89.7,64.9 90.1,64.6 95.4,62.7C100.7,60.8 101.0,61.0 104.9,61.9C108.8,62.8 108.1,62.9 107.0,65.5C106.0,68.1 106.3,68.0 101.7,69.7C97.1,71.5 97.5,71.5 93.2,70.8C89.0,70.1 88.3,70.3 89.0,67.6Z" fill="#92c5de"/>
<path d="M273.4,101.5C274.8,99.4 276.2,98.3 284.0,99.4C291.7,100.5 293.9,101.9 296.7,104.7C299.5,107.5 298.1,107.5 292.5,107.9C286.8,108.2 286.1,107.9 279.7,105.8C273.4,103.6 272.0,103.6 273.4,101.5Z" fill="#d1e5f0"/>
<path d="M305.2,103.6C306.9,102.2 308.7,101.9 313.6,102.6C318.6,103.3 319.3,104.0 320.0,105.8C320.7,107.5 319.6,107.5 315.8,107.9C311.9,108.2 311.9,108.2 308.3,106.8C304.8,105.4 303.4,105.1 305.2,103.6Z" fill="#d1e5f0"/>
<path d="M20.1,25.2C22.6,20.6 24.4,22.4 31.8,21.0C39.2,19.6 36.0,19.2 42.4,21.0C48.7,22.8 43.8,23.8 50.9,26.3C57.9,28.8 55.1,28.4 63.6,28.4C72.1,28.4 67.8,28.4 76.3,26.3C84.8,24.2 80.5,23.8 89.0,22.0C97.5,20.3 93.2,19.9 101.7,21.0C110.2,22.0 107.0,21.3 114.4,25.2C121.9,29.1 121.9,28.1 124.0,32.6C126.1,37.2 125.4,35.8 120.8,39.0C116.2,42.2 118.0,40.1 110.2,42.2C102.4,44.3 106.0,43.0 97.5,45.4C89.0,47.7 91.1,48.1 84.8,49.2C78.4,50.2 81.9,50.2 78.4,48.5C74.9,46.9 79.8,45.7 74.2,44.3C68.5,42.9 72.1,43.9 61.5,44.3C50.9,44.7 53.7,46.1 42.4,45.4C31.1,44.7 33.6,45.7 27.5,42.2C21.5,38.7 26.8,40.4 24.4,34.8C21.9,29.1 17.7,29.8 20.1,25.2Z" fill="#fddbc7"/>
<path d="M38.1,29.5C38.5,27.0 39.2,26.6 42.4,27.3C45.6,28.1 44.9,28.4 47.7,31.6C50.5,34.8 51.2,34.6 50.9,36.9C50.5,39.2 49.8,39.3 46.6,38.6C43.4,37.9 44.2,37.8 41.3,34.8C38.5,31.7 37.8,31.9 38.1,29.5Z" fill="#f4a582"/>
<path d="M69.9,35.8C69.9,33.4 71.3,33.3 76.3,32.2C81.2,31.2 82.3,30.7 84.8,32.6C87.2,34.6 86.5,35.7 83.7,37.9C80.9,40.2 80.9,40.1 76.3,39.4C71.7,38.7 69.9,38.2 69.9,35.8Z" fill="#f4a582"/>
<path d="M167.4,45.4C169.9,43.2 169.5,44.7 175.9,42.2C182.3,39.7 178.7,40.4 186.5,37.9C194.3,35.5 191.4,35.1 199.2,34.8C207.0,34.4 207.3,33.7 209.8,36.9C212.3,40.1 210.2,40.8 206.6,44.3C203.1,47.8 204.5,44.7 199.2,47.5C193.9,50.3 197.1,49.8 190.7,52.8C184.4,55.7 186.1,56.4 180.1,56.4C174.1,56.4 176.6,55.4 172.7,52.8C168.8,50.2 170.2,51.0 168.5,48.5C166.7,46.1 164.9,47.5 167.4,45.4Z" fill="#fddbc7"/>
<ellipse cx="224.0" cy="56.2" rx="3.8" ry="1.5" fill="#fddbc7"/>
<path d="M216.2,89.9C216.2,87.0 218.3,86.9 224.6,85.6C231.0,84.4 230.3,84.6 235.2,86.0C240.2,87.5 239.1,86.8 239.5,89.9C239.8,92.9 241.2,93.7 236.3,95.2C231.3,96.6 231.3,95.9 224.6,94.1C217.9,92.3 216.2,92.7 216.2,89.9Z" fill="#fddbc7"/>
<ellipse cx="150.9" cy="94.5" rx="4.9" ry="1.7" fill="#fddbc7"/>
<ellipse cx="405.0" cy="35.4" rx="7.6" ry="3.8" fill="#fddbc7"/>
<path d="M421.9,31.6C424.1,29.1 423.3,29.1 430.4,28.4C437.5,27.7 437.5,31.0 443.1,29.5C448.8,27.9 441.7,25.9 447.4,23.7C453.0,21.6 451.6,22.6 460.1,23.1C468.6,23.6 466.8,22.4 472.8,25.2C478.8,28.1 476.0,27.7 478.1,31.6C480.2,35.5 474.6,33.6 479.2,36.9C483.7,40.2 490.5,40.0 491.9,41.5C493.3,43.1 489.7,42.5 483.4,41.5C477.0,40.6 482.7,39.4 472.8,38.6C462.9,37.7 466.4,39.0 453.7,39.0C441.0,39.0 444.5,39.6 434.6,38.6C424.8,37.5 428.3,38.2 424.1,35.8C419.8,33.5 419.8,34.1 421.9,31.6Z" fill="#fddbc7"/>
<path d="M499.3,39.0C500.0,36.5 501.4,36.2 506.7,33.7C512.0,31.2 510.6,31.2 515.2,31.6C519.8,31.9 520.5,32.3 520.5,34.8C520.5,37.2 520.5,36.9 515.2,39.0C509.9,41.1 509.9,41.1 504.6,41.1C499.3,41.1 498.6,41.5 499.3,39.0Z" fill="#fddbc7"/>
<path d="M463.3,63.4C466.1,60.9 463.3,61.8 472.8,59.1C482.3,56.5 480.6,56.0 491.9,55.3C503.2,54.6 496.1,54.7 506.7,57.0C517.3,59.3 515.9,58.4 523.7,62.3C531.4,66.2 525.1,64.4 530.0,68.7C535.0,72.9 532.1,71.5 538.5,75.0C544.8,78.6 547.0,77.1 549.1,79.3C551.2,81.4 551.9,81.4 544.8,81.4C537.8,81.4 540.6,81.0 527.9,79.3C515.2,77.5 519.4,78.6 506.7,76.1C494.0,73.6 501.1,74.3 489.7,71.9C478.4,69.4 481.3,70.4 472.8,68.7C464.3,66.9 467.5,68.3 464.3,66.6C461.1,64.8 460.4,65.8 463.3,63.4Z" fill="#fddbc7"/>
<path d="M554.4,8.3C555.1,5.6 550.9,6.2 559.7,3.0C568.5,-0.2 554.7,0.2 580.9,-1.3C607.0,-2.7 619.0,-6.2 638.1,-1.3C657.2,3.7 646.6,8.5 638.1,13.6C629.6,18.7 628.2,13.6 612.7,14.0C597.1,14.3 605.6,15.1 591.5,14.6C577.3,14.1 581.6,13.7 570.3,12.5C559.0,11.3 562.9,12.4 557.6,11.0C552.3,9.6 553.7,11.0 554.4,8.3Z" fill="#fddbc7"/>
<path d="M596.8,2.1 L612.7,-1.3 L638.1,-1.3 L638.1,5.1 L612.7,4.7Z" fill="#f4a582"/>
<path d="M596.8,31.6C598.9,29.7 598.2,29.0 604.2,28.0C610.2,26.9 610.7,27.4 614.8,28.4C618.9,29.4 619.3,29.2 616.5,31.0C613.7,32.7 612.5,32.8 606.3,33.7C600.1,34.6 601.0,34.4 597.8,33.7C594.6,33.0 594.6,33.5 596.8,31.6Z" fill="#d1e5f0"/>
<path d="M535.3,127.0C536.0,122.7 533.9,124.1 540.6,120.6C547.3,117.1 542.0,118.0 555.4,116.4C568.9,114.7 561.8,115.4 580.9,115.7C599.9,116.1 593.6,116.1 612.7,117.4C631.7,118.7 629.6,109.6 638.1,119.5C646.6,129.4 667.8,137.9 638.1,147.1C608.4,156.3 582.3,151.7 549.1,147.1C515.9,142.5 543.1,140.0 538.5,133.3C533.9,126.6 534.6,131.2 535.3,127.0Z" fill="#d1e5f0"/>
<path d="M591.5,147.1C578.8,143.6 591.5,140.9 599.9,136.5C608.4,132.1 604.2,135.1 616.9,133.9C629.6,132.7 631.0,128.5 638.1,132.9C645.2,137.3 653.6,142.3 638.1,147.1C622.6,151.8 604.2,150.6 591.5,147.1Z" fill="#92c5de"/>
<ellipse cx="338.6" cy="108.9" rx="5.9" ry="1.1" fill="#d1e5f0"/>
<path d="M361.5,108.9C362.9,107.9 364.2,107.7 369.0,108.5C373.7,109.4 375.0,109.9 375.7,111.5C376.4,113.0 374.7,113.2 371.1,113.2C367.4,113.2 367.9,112.9 364.7,111.5C361.5,110.1 360.1,109.9 361.5,108.9Z" fill="#d1e5f0"/>
<path d="M407.1,142.8C397.2,141.1 406.4,139.2 415.6,137.8C424.8,136.3 424.8,136.9 434.6,138.6C444.5,140.3 454.4,141.4 445.2,142.8C436.1,144.3 417.0,144.5 407.1,142.8Z" fill="#d1e5f0"/>
<use href="#coast"/>
<path d="M-4.2,22.3C4.2,21.8 5.7,20.9 21.2,21.0C36.7,21.1 28.3,20.7 42.4,22.5C56.5,24.2 50.9,23.6 63.6,26.3C76.3,29.0 72.6,27.7 80.5,30.5C88.4,33.4 86.6,31.6 87.3,34.8C88.0,37.9 86.3,36.2 82.6,40.1C79.0,43.9 82.6,43.6 76.3,46.4C69.9,49.2 74.9,48.3 63.6,48.5C52.3,48.8 56.5,48.7 42.4,47.1C28.3,45.4 36.7,47.4 21.2,43.7C5.7,39.9 4.2,38.4 -4.2,35.8" fill="none" stroke="#000" stroke-width="1.8"/>
<path d="M54.7,36.9C54.7,34.3 53.9,34.8 58.3,31.6C62.7,28.4 60.4,29.5 67.8,27.3C75.2,25.2 72.8,25.6 80.5,25.2C88.3,24.9 85.3,24.2 91.1,26.3C96.9,28.4 95.2,28.1 97.9,31.6C100.6,35.1 100.7,34.3 99.2,36.9C97.6,39.5 99.5,38.2 93.2,39.4C87.0,40.7 89.0,40.3 80.5,40.7C72.1,41.1 75.2,41.1 67.8,40.7C60.4,40.3 62.7,40.7 58.3,39.4C53.9,38.2 54.7,39.5 54.7,36.9Z" fill="none" stroke="#ff0000" stroke-width="1.8"/>
<path d="M102.4,105.1C101.7,101.8 101.2,103.0 108.1,100.0C114.9,97.1 116.6,99.6 122.9,96.2C129.3,92.8 122.9,93.7 127.2,89.9C131.4,86.0 127.2,88.1 135.6,84.6C144.1,81.0 141.3,82.1 152.6,79.3C163.9,76.4 160.4,77.6 169.5,76.1C178.7,74.5 178.0,76.0 180.1,74.6C182.3,73.2 180.1,74.5 175.9,71.9C171.7,69.2 172.7,70.8 167.4,66.6C162.1,62.3 163.9,64.8 160.0,59.1C156.1,53.5 157.5,55.3 155.8,49.6C154.0,43.9 153.6,46.1 154.7,42.2C155.8,38.3 154.0,39.9 158.9,37.9C163.9,36.0 158.9,37.0 169.5,36.5C180.1,36.0 176.6,36.2 190.7,36.5C204.9,36.7 197.8,36.1 211.9,37.3C226.0,38.5 220.4,37.7 233.1,40.1C245.8,42.4 240.2,40.8 250.1,44.3C260.0,47.8 257.8,46.8 262.8,50.7C267.7,54.5 265.3,52.1 264.9,56.0C264.5,59.8 260.3,58.1 261.7,62.3C263.1,66.6 261.7,64.1 269.1,68.7C276.6,73.3 274.8,70.8 284.0,76.1C293.2,81.4 290.5,79.6 296.7,84.6C302.9,89.5 302.6,87.4 302.6,90.9C302.6,94.5 305.7,93.0 296.7,95.2C287.6,97.3 289.6,96.0 275.5,97.3C261.4,98.6 268.4,97.9 254.3,99.0C240.2,100.0 241.6,98.6 233.1,100.5C224.6,102.4 235.9,101.9 228.9,104.7C221.8,107.5 224.6,106.5 211.9,108.9C199.2,111.4 204.9,110.6 190.7,112.1C176.6,113.7 183.7,113.1 169.5,113.6C155.4,114.1 162.5,114.1 148.3,113.6C134.2,113.1 139.9,113.3 127.2,112.1C114.4,110.9 118.5,112.3 110.2,110.0C101.9,107.7 103.1,108.4 102.4,105.1Z" fill="none" stroke="#000" stroke-width="1.8"/>
</g>
<use href="#frame"/>
</g>
<g transform="translate(845.0,511.6)">
<g clip-path="url(#pc)"><rect x="0" y="0" width="633.4" height="140.6" fill="#fafafa"/>
<path d="M-4.2,-4.4C70.6,-12.2 145.2,-8.3 220.4,-4.4C295.6,-0.6 222.2,-0.2 221.5,7.2C220.8,14.6 222.2,11.5 218.3,17.8C214.4,24.2 216.2,21.3 209.8,26.3C203.4,31.2 207.0,29.1 199.2,32.6C191.4,36.2 195.0,34.9 186.5,36.9C178.0,38.9 180.1,39.3 173.8,38.6C167.4,37.9 171.7,37.4 167.4,34.8C163.2,32.1 167.4,33.4 161.1,30.5C154.7,27.7 156.8,27.7 148.3,26.3C139.9,24.9 143.4,27.7 135.6,26.3C127.9,24.9 130.7,22.4 125.0,22.0C119.4,21.7 125.0,23.8 118.7,25.2C112.3,26.6 114.4,25.9 106.0,26.3C97.5,26.6 101.7,25.6 93.2,26.3C84.8,27.0 88.3,28.4 80.5,28.4C72.8,28.4 77.0,27.7 69.9,26.3C62.9,24.9 66.4,25.2 59.3,24.2C52.3,23.1 57.9,23.1 48.7,23.1C39.6,23.1 42.4,24.9 31.8,24.2C21.2,23.5 27.5,22.8 17.0,21.0C6.4,19.2 7.1,19.6 0.0,18.9C-7.1,18.2 -2.8,26.6 -4.2,18.9C-5.7,11.1 -79.1,3.3 -4.2,-4.4Z" fill="#fddbc7"/>
<path d="M7.4,7.2C8.1,3.9 6.0,4.7 12.7,2.6C19.4,0.4 17.7,1.0 27.5,0.9C37.4,0.7 35.3,0.0 42.4,2.1C49.4,4.2 48.0,3.0 48.7,7.2C49.4,11.4 49.4,11.1 44.5,14.6C39.6,18.2 41.7,17.5 33.9,17.8C26.1,18.2 29.0,17.5 21.2,15.7C13.4,13.9 15.2,15.3 10.6,12.5C6.0,9.7 6.7,10.5 7.4,7.2Z" fill="#f4a582"/>
<path d="M86.9,12.5C87.6,9.3 86.9,10.4 93.2,7.2C99.6,4.0 98.9,4.0 106.0,3.0C113.0,1.9 110.9,1.6 114.4,4.0C118.0,6.5 118.0,6.5 116.6,10.4C115.1,14.3 115.8,13.1 110.2,15.7C104.5,18.3 106.0,17.9 99.6,18.2C93.2,18.6 95.4,18.7 91.1,16.8C86.9,14.8 86.2,15.7 86.9,12.5Z" fill="#f4a582"/>
<ellipse cx="176.3" cy="15.7" rx="4.7" ry="4.7" fill="#fafafa"/>
<ellipse cx="139.9" cy="6.2" rx="4.7" ry="2.8" fill="#fafafa"/>
<path d="M3.2,123.8C6.7,119.5 3.2,122.2 12.7,119.5C22.3,116.8 17.7,117.3 31.8,115.7C45.9,114.2 41.0,114.7 55.1,114.9C69.2,115.1 62.9,114.1 74.2,116.4C85.5,118.6 79.8,117.8 89.0,121.7C98.2,125.5 94.0,123.8 101.7,128.0C109.5,132.2 105.3,128.0 112.3,134.4C119.4,140.7 158.9,142.8 122.9,147.1C86.9,151.3 44.5,152.0 4.2,147.1C-36.0,142.1 2.5,140.0 2.1,132.2C1.8,124.5 -0.4,128.0 3.2,123.8Z" fill="#fddbc7"/>
<path d="M-4.2,37.9C4.2,23.8 5.7,36.9 21.2,37.9C36.7,39.0 28.3,38.7 42.4,41.1C56.5,43.6 49.4,43.2 63.6,45.4C77.7,47.5 70.6,47.8 84.8,47.5C98.9,47.1 93.2,46.4 106.0,44.3C118.7,42.2 114.4,41.8 122.9,41.1C131.4,40.4 128.6,40.1 131.4,42.2C134.2,44.3 130.0,42.9 131.4,47.5C132.8,52.1 131.4,50.3 135.6,56.0C139.9,61.6 141.3,60.2 144.1,64.4C146.9,68.7 148.3,66.9 144.1,68.7C139.9,70.4 141.3,68.7 131.4,69.7C121.5,70.8 126.4,70.7 114.4,71.9C102.4,73.1 108.8,72.4 95.4,73.3C81.9,74.3 88.3,73.7 74.2,74.6C60.0,75.5 67.1,75.2 53.0,76.1C38.9,76.9 45.2,76.1 31.8,77.1C18.4,78.2 23.3,78.2 12.7,79.3C2.1,80.3 5.7,80.0 0.0,80.3C-5.7,80.7 -2.8,94.5 -4.2,80.3C-5.7,66.2 -12.7,52.1 -4.2,37.9Z" fill="#d1e5f0"/>
<path d="M-4.2,46.4C1.4,39.0 0.7,44.7 12.7,44.3C24.7,43.9 19.8,43.5 31.8,45.4C43.8,47.3 38.1,46.8 48.7,50.0C59.3,53.2 57.1,52.2 63.6,54.9C70.1,57.6 68.9,55.6 68.2,58.1C67.5,60.5 68.7,59.8 61.5,62.3C54.3,64.8 57.2,63.9 46.6,65.5C36.0,67.1 41.7,66.6 29.7,67.2C17.7,67.8 21.9,67.4 10.6,67.2C-0.7,67.0 0.7,73.5 -4.2,66.6C-9.2,59.6 -9.9,53.8 -4.2,46.4Z" fill="#92c5de"/>
<path d="M241.6,51.7C242.6,46.8 241.9,47.7 246.9,44.3C251.8,40.9 249.0,41.2 256.4,41.5C263.8,41.9 260.0,43.7 269.1,45.4C278.3,47.0 275.1,45.1 284.0,46.4C292.8,47.7 290.7,46.7 295.6,49.2C300.6,51.6 299.9,50.9 298.8,53.8C297.7,56.8 300.2,55.6 292.5,58.1C284.7,60.5 286.1,58.8 275.5,61.3C264.9,63.7 269.1,64.1 260.7,65.5C252.2,66.9 255.7,67.6 250.1,65.5C244.4,63.4 246.5,63.7 243.7,59.1C240.9,54.5 240.5,56.7 241.6,51.7Z" fill="#d1e5f0"/>
<ellipse cx="156.2" cy="106.8" rx="5.9" ry="2.1" fill="#d1e5f0"/>
<path d="M187.5,142.8C184.4,140.9 187.5,139.0 190.7,136.9C193.9,134.8 193.9,134.5 197.1,136.5C200.3,138.5 203.4,140.7 200.3,142.8C197.1,145.0 190.7,144.8 187.5,142.8Z" fill="#d1e5f0"/>
<path d="M377.4,58.1C377.8,52.4 376.0,55.6 381.7,51.7C387.3,47.8 385.9,50.3 394.4,46.4C402.9,42.5 396.5,42.9 407.1,40.1C417.7,37.2 413.5,39.0 426.2,37.9C438.9,36.9 433.9,35.5 445.2,36.9C456.5,38.3 449.5,37.9 460.1,42.2C470.7,46.4 467.1,45.0 477.0,49.6C486.9,54.2 483.4,51.7 489.7,56.0C496.1,60.2 494.7,56.0 496.1,62.3C497.5,68.7 496.8,67.6 494.0,75.0C491.2,82.4 494.7,79.6 487.6,84.6C480.6,89.5 486.2,87.4 472.8,89.9C459.4,92.3 464.3,92.0 447.4,92.0C430.4,92.0 437.5,92.0 421.9,89.9C406.4,87.7 412.0,89.2 400.7,85.6C389.4,82.1 394.7,84.9 388.0,79.3C381.3,73.6 384.1,75.7 380.6,68.7C377.1,61.6 377.1,63.7 377.4,58.1Z" fill="#fddbc7"/>
<path d="M578.8,-2.3C597.8,-5.1 618.3,-8.7 638.1,-2.3C657.9,4.0 643.0,9.9 638.1,16.8C633.1,23.6 635.3,18.4 623.3,18.2C611.2,18.0 614.1,17.7 602.1,16.1C590.1,14.6 594.3,16.9 587.2,13.6C580.2,10.3 583.7,11.5 580.9,6.2C578.0,0.9 559.7,0.5 578.8,-2.3Z" fill="#fddbc7"/>
<path d="M568.2,44.9C568.2,42.5 567.5,42.4 574.5,41.1C581.6,39.9 582.3,40.1 589.4,41.1C596.4,42.2 595.7,41.8 595.7,44.3C595.7,46.8 596.4,47.1 589.4,48.5C582.3,50.0 581.6,49.7 574.5,48.5C567.5,47.3 568.2,47.4 568.2,44.9Z" fill="#d1e5f0"/>
<ellipse cx="323.8" cy="95.0" rx="3.8" ry="1.3" fill="#fddbc7"/>
<ellipse cx="31.4" cy="13.8" rx="0.6" ry="0.6" fill="#ff0000"/>
<use href="#coast"/>
<path d="M9.5,-2.3C13.4,0.2 12.4,1.2 21.2,5.1C30.0,9.0 24.7,7.1 36.0,9.3C47.3,11.6 41.7,10.6 55.1,11.9C68.5,13.1 62.2,12.0 76.3,13.1C90.4,14.3 84.1,13.6 97.5,15.3C110.9,17.0 107.0,16.3 116.6,18.2C126.1,20.1 124.7,19.0 126.1,21.0C127.5,23.0 127.5,21.7 120.8,24.2C114.1,26.6 115.8,25.2 106.0,28.4C96.1,31.6 101.0,31.0 91.1,33.7C81.2,36.4 85.5,36.0 76.3,36.5C67.1,37.0 72.1,36.5 63.6,35.2C55.1,33.9 61.5,35.3 50.9,32.6C40.3,30.0 44.5,30.9 31.8,27.3C19.1,23.8 24.7,24.7 12.7,22.0C0.7,19.4 1.4,20.2 -4.2,19.3" fill="none" stroke="#000" stroke-width="1.8"/>
<path d="M242.6,108.9C242.3,107.4 241.2,107.2 247.9,105.8C254.7,104.3 252.2,104.5 262.8,104.7C273.4,104.9 271.1,105.0 279.7,106.4C288.4,107.8 288.6,107.4 288.6,108.9C288.6,110.5 288.4,110.2 279.7,111.1C271.1,111.9 273.0,111.7 262.8,111.5C252.5,111.3 255.7,111.3 249.0,110.4C242.3,109.6 243.0,110.5 242.6,108.9Z" fill="none" stroke="#000" stroke-width="1.8"/>
</g>
<use href="#frame"/>
</g>
<g transform="translate(845.0,744.6)">
<g clip-path="url(#pc)"><rect x="0" y="0" width="633.4" height="140.6" fill="#fafafa"/>
<path d="M5.3,6.2C6.4,3.3 3.2,4.2 8.5,1.9C13.8,-0.4 9.9,0.1 21.2,-0.8C32.5,-1.8 32.5,-2.1 42.4,-0.8C52.3,0.4 48.7,-0.1 50.9,3.0C53.0,6.0 53.0,4.7 48.7,8.3C44.5,11.8 46.6,11.2 38.1,13.6C29.7,15.9 32.5,15.1 23.3,15.3C14.1,15.4 16.6,15.6 10.6,14.0C4.6,12.4 7.1,13.0 5.3,10.4C3.5,7.8 4.2,9.0 5.3,6.2Z" fill="#fddbc7"/>
<path d="M79.5,7.2C79.5,3.1 79.5,3.7 84.8,0.9C90.1,-2.0 81.2,-0.6 95.4,-1.3C109.5,-2.0 115.1,-3.0 127.2,-1.3C139.2,0.5 131.4,0.2 131.4,4.0C131.4,7.9 132.8,6.9 127.2,10.4C121.5,13.9 124.3,13.0 114.4,14.6C104.5,16.3 107.4,15.8 97.5,15.3C87.6,14.8 90.8,15.8 84.8,13.1C78.8,10.5 79.5,11.3 79.5,7.2Z" fill="#fddbc7"/>
<path d="M236.3,-1.3C260.0,-2.7 285.0,-4.1 308.3,-1.3C331.7,1.6 310.1,2.6 306.2,7.2C302.3,11.8 306.9,9.8 296.7,12.5C286.4,15.2 289.6,15.1 275.5,15.3C261.4,15.5 265.6,15.5 254.3,13.1C243.0,10.8 247.2,11.7 241.6,8.3C235.9,4.9 239.1,6.2 237.4,3.0C235.6,-0.2 212.6,0.2 236.3,-1.3Z" fill="#d1e5f0"/>
<path d="M-4.2,28.4C1.4,13.6 0.7,27.9 12.7,27.3C24.7,26.8 20.5,26.0 31.8,26.7C43.1,27.4 38.1,25.0 46.6,29.5C55.1,33.9 49.4,34.1 57.2,40.1C65.0,46.1 60.8,44.2 69.9,47.5C79.1,50.8 74.2,50.4 84.8,50.0C95.4,49.7 91.8,49.0 101.7,46.4C111.6,43.8 106.0,44.3 114.4,42.2C122.9,40.1 121.1,39.4 127.2,40.1C133.2,40.8 132.5,40.4 132.5,44.3C132.5,48.2 132.5,46.4 127.2,51.7C121.9,57.0 123.6,54.5 116.6,60.2C109.5,65.8 112.3,62.7 106.0,68.7C99.6,74.7 103.1,72.9 97.5,78.2C91.8,83.5 95.4,81.7 89.0,84.6C82.6,87.4 85.5,87.0 78.4,86.7C71.3,86.3 74.2,86.7 67.8,83.5C61.5,80.3 67.8,80.3 59.3,77.1C50.9,74.0 55.1,75.2 42.4,74.0C29.7,72.7 36.7,74.0 21.2,73.3C5.7,72.6 4.2,86.8 -4.2,71.9C-12.7,56.9 -9.9,43.2 -4.2,28.4Z" fill="#d1e5f0"/>
<path d="M10.6,48.5C10.2,44.3 10.6,45.7 14.8,42.2C19.1,38.7 18.0,38.3 23.3,37.9C28.6,37.6 25.8,37.6 30.7,41.1C35.7,44.7 33.9,44.3 38.1,48.5C42.4,52.8 42.7,50.8 43.4,53.8C44.2,56.9 45.6,56.4 40.3,57.7C35.0,58.9 35.7,58.6 27.5,57.7C19.4,56.7 21.5,57.9 15.9,54.9C10.2,51.9 10.9,52.8 10.6,48.5Z" fill="#92c5de"/>
<path d="M62.9,131.2C63.6,129.2 62.0,128.9 67.8,128.9C73.7,128.9 73.8,129.0 80.5,131.2C87.2,133.4 85.8,133.0 87.9,135.4C90.1,137.9 91.5,137.9 86.9,138.6C82.3,139.3 81.2,138.8 74.2,137.5C67.1,136.3 69.4,136.9 65.7,134.8C62.0,132.7 62.2,133.2 62.9,131.2Z" fill="#fddbc7"/>
<path d="M332.9,83.5C331.2,76.1 332.6,78.6 336.1,68.7C339.6,58.8 336.8,62.0 343.5,53.8C350.2,45.7 347.1,50.0 356.2,44.3C365.4,38.7 364.0,43.6 371.1,36.9C378.1,30.2 372.5,31.2 377.4,24.2C382.4,17.1 376.7,19.6 385.9,15.7C395.1,11.8 393.0,13.6 405.0,12.5C417.0,11.5 409.2,10.4 421.9,12.5C434.6,14.6 431.8,14.3 443.1,18.9C454.4,23.5 449.5,20.3 455.8,26.3C462.2,32.3 458.7,30.9 462.2,36.9C465.7,42.9 460.8,39.7 466.4,44.3C472.1,48.9 473.1,44.7 479.2,50.7C485.2,56.7 483.4,52.8 484.5,62.3C485.5,71.9 484.8,69.4 482.3,79.3C479.9,89.2 483.0,85.3 477.0,92.0C471.0,98.7 475.6,95.5 464.3,99.4C453.0,103.3 457.3,102.2 443.1,103.6C429.0,105.1 436.1,104.7 421.9,103.6C407.8,102.6 414.9,101.9 400.7,100.5C386.6,99.0 393.7,100.5 379.5,99.4C365.4,98.3 371.1,100.1 358.4,97.3C345.6,94.5 349.9,95.5 341.4,90.9C332.9,86.3 334.7,90.9 332.9,83.5Z" fill="#fddbc7"/>
<path d="M411.3,69.7C411.5,66.2 411.0,66.6 414.5,64.4C418.0,62.3 417.5,62.3 421.9,63.4C426.4,64.4 426.1,64.1 427.9,67.6C429.6,71.1 429.6,70.8 427.2,74.0C424.9,77.1 425.3,76.8 420.9,77.1C416.4,77.5 417.1,77.5 413.9,75.0C410.7,72.6 411.1,73.3 411.3,69.7Z" fill="#f4a582"/>
<path d="M374.3,123.8C376.4,120.9 375.7,123.1 385.9,123.8C396.2,124.5 391.6,123.1 405.0,125.9C418.4,128.7 413.5,128.6 426.2,132.2C438.9,135.9 433.2,133.4 443.1,136.9C453.0,140.4 474.2,140.9 455.8,142.8C437.5,144.8 413.5,146.4 388.0,142.8C362.6,139.3 384.1,138.6 379.5,132.2C375.0,125.9 372.1,126.6 374.3,123.8Z" fill="#d1e5f0"/>
<use href="#coast"/>
<path d="M31.8,-2.3C34.3,0.9 32.1,2.3 39.2,7.2C46.3,12.2 42.0,9.7 53.0,12.5C63.9,15.3 58.6,14.1 72.1,15.7C85.5,17.3 79.1,16.7 93.2,17.4C107.4,18.1 100.3,18.0 114.4,17.8C128.6,17.6 125.0,17.6 135.6,16.8C146.2,15.9 141.6,16.5 146.2,15.3C150.8,14.1 151.5,15.0 149.4,13.1C147.3,11.3 148.7,11.9 139.9,9.8C131.0,7.6 134.2,8.9 122.9,6.8C111.6,4.7 115.8,5.5 106.0,3.4C96.1,1.3 98.9,2.3 93.2,0.4C87.6,-1.5 90.4,-1.4 89.0,-2.3" fill="none" stroke="#000" stroke-width="1.8"/>
</g>
<use href="#frame"/>
</g>
<rect x="229.80" y="1002.9" width="54.84" height="22.6" fill="#053061" stroke="#000" stroke-width="1.2"/>
<rect x="284.64" y="1002.9" width="54.84" height="22.6" fill="#2166ac" stroke="#000" stroke-width="1.2"/>
<rect x="339.47" y="1002.9" width="54.84" height="22.6" fill="#4393c3" stroke="#000" stroke-width="1.2"/>
<rect x="394.31" y="1002.9" width="54.84" height="22.6" fill="#92c5de" stroke="#000" stroke-width="1.2"/>
<rect x="449.15" y="1002.9" width="54.84" height="22.6" fill="#d1e5f0" stroke="#000" stroke-width="1.2"/>
<rect x="503.98" y="1002.9" width="54.84" height="22.6" fill="#f7f7f7" stroke="#000" stroke-width="1.2"/>
<rect x="558.82" y="1002.9" width="54.84" height="22.6" fill="#fddbc7" stroke="#000" stroke-width="1.2"/>
<rect x="613.65" y="1002.9" width="54.84" height="22.6" fill="#f4a582" stroke="#000" stroke-width="1.2"/>
<rect x="668.49" y="1002.9" width="54.84" height="22.6" fill="#d6604d" stroke="#000" stroke-width="1.2"/>
<rect x="723.33" y="1002.9" width="54.84" height="22.6" fill="#b2182b" stroke="#000" stroke-width="1.2"/>
<rect x="778.16" y="1002.9" width="54.84" height="22.6" fill="#67001f" stroke="#000" stroke-width="1.2"/>
<g stroke-width="2.4" fill="none"><line x1="1088.5" y1="1002.7" x2="1158.3" y2="1002.7" stroke="#000"/><line x1="1088.5" y1="1043.3" x2="1158.3" y2="1043.3" stroke="#a020f0"/><line x1="1313.5" y1="1002.7" x2="1380.4" y2="1002.7" stroke="#0000ff"/><line x1="1313.5" y1="1043.3" x2="1380.4" y2="1043.3" stroke="#ff0000"/></g>
<text transform="translate(100.92,31.00) scale(0.9821,1.045)" font-size="35.3" stroke="#000" stroke-width="0.38">4-May to 10-May</text>
<text transform="translate(98.93,264.00) scale(0.9906,1.045)" font-size="35.3" stroke="#000" stroke-width="0.38">11-May to 17-May</text>
<text transform="translate(98.95,497.00) scale(0.9813,1.045)" font-size="35.3" stroke="#000" stroke-width="0.38">18-May to 24-May</text>
<text transform="translate(100.05,730.00) scale(0.9880,1.045)" font-size="35.3" stroke="#000" stroke-width="0.38">25-May to 31-May</text>
<text transform="translate(841.45,37.70) scale(0.9926,1.045)" font-size="35" stroke="#000" stroke-width="0.38">1-Jun to 7-Jun</text>
<text transform="translate(842.50,270.70) scale(0.9999,1.045)" font-size="35" stroke="#000" stroke-width="0.38">8-Jun to 14-Jun</text>
<text transform="translate(841.45,503.70) scale(0.9925,1.045)" font-size="35" stroke="#000" stroke-width="0.38">15-Jun to 21-Jun</text>
<text transform="translate(842.34,736.70) scale(0.9991,1.045)" font-size="35" stroke="#000" stroke-width="0.38">22-Jun to 28-Jun</text>
<text transform="translate(586.68,38.00) scale(0.9936,1.045)" font-size="35.2" stroke="#000" stroke-width="0.38">Observed</text>
<text transform="translate(1263.92,37.60) scale(0.9923,1.045)" font-size="35" stroke="#000" stroke-width="0.38">CFS Forecast</text>
<text transform="translate(10.58,58.60) scale(1.0000,1.045)" font-size="35.3" stroke="#000" stroke-width="0.38">20N</text>
<text transform="translate(10.58,93.72) scale(1.0000,1.045)" font-size="35.3" stroke="#000" stroke-width="0.38">10N</text>
<text transform="translate(53.99,128.85) scale(1.0000,1.045)" font-size="35.3" stroke="#000" stroke-width="0.38">0</text>
<text transform="translate(11.06,163.97) scale(1.0000,1.045)" font-size="35.3" stroke="#000" stroke-width="0.38">10S</text>
<text transform="translate(11.06,199.10) scale(1.0000,1.045)" font-size="35.3" stroke="#000" stroke-width="0.38">20S</text>
<text transform="translate(10.58,291.60) scale(1.0000,1.045)" font-size="35.3" stroke="#000" stroke-width="0.38">20N</text>
<text transform="translate(10.58,326.73) scale(1.0000,1.045)" font-size="35.3" stroke="#000" stroke-width="0.38">10N</text>
<text transform="translate(53.99,361.85) scale(1.0000,1.045)" font-size="35.3" stroke="#000" stroke-width="0.38">0</text>
<text transform="translate(11.06,396.98) scale(1.0000,1.045)" font-size="35.3" stroke="#000" stroke-width="0.38">10S</text>
<text transform="translate(11.06,432.10) scale(1.0000,1.045)" font-size="35.3" stroke="#000" stroke-width="0.38">20S</text>
<text transform="translate(10.58,524.60) scale(1.0000,1.045)" font-size="35.3" stroke="#000" stroke-width="0.38">20N</text>
<text transform="translate(10.58,559.73) scale(1.0000,1.045)" font-size="35.3" stroke="#000" stroke-width="0.38">10N</text>
<text transform="translate(53.99,594.85) scale(1.0000,1.045)" font-size="35.3" stroke="#000" stroke-width="0.38">0</text>
<text transform="translate(11.06,629.98) scale(1.0000,1.045)" font-size="35.3" stroke="#000" stroke-width="0.38">10S</text>
<text transform="translate(11.06,665.10) scale(1.0000,1.045)" font-size="35.3" stroke="#000" stroke-width="0.38">20S</text>
<text transform="translate(10.58,757.60) scale(1.0000,1.045)" font-size="35.3" stroke="#000" stroke-width="0.38">20N</text>
<text transform="translate(10.58,792.73) scale(1.0000,1.045)" font-size="35.3" stroke="#000" stroke-width="0.38">10N</text>
<text transform="translate(53.99,827.85) scale(1.0000,1.045)" font-size="35.3" stroke="#000" stroke-width="0.38">0</text>
<text transform="translate(11.06,862.98) scale(1.0000,1.045)" font-size="35.3" stroke="#000" stroke-width="0.38">10S</text>
<text transform="translate(11.06,898.10) scale(1.0000,1.045)" font-size="35.3" stroke="#000" stroke-width="0.38">20S</text>
<text transform="translate(70.29,940.30) scale(1.0000,1.045)" font-size="35.5" stroke="#000" stroke-width="0.38">60E</text>
<text transform="translate(271.07,940.30) scale(1.0000,1.045)" font-size="35.5" stroke="#000" stroke-width="0.38">120E</text>
<text transform="translate(494.14,940.30) scale(1.0000,1.045)" font-size="35.5" stroke="#000" stroke-width="0.38">180</text>
<text transform="translate(687.87,940.30) scale(1.0000,1.045)" font-size="35.5" stroke="#000" stroke-width="0.38">120W</text>
<text transform="translate(812.79,940.30) scale(1.0000,1.045)" font-size="35.5" stroke="#000" stroke-width="0.38">60E</text>
<text transform="translate(1013.57,940.30) scale(1.0000,1.045)" font-size="35.5" stroke="#000" stroke-width="0.38">120E</text>
<text transform="translate(1236.64,940.30) scale(1.0000,1.045)" font-size="35.5" stroke="#000" stroke-width="0.38">180</text>
<text transform="translate(1430.37,940.30) scale(1.0000,1.045)" font-size="35.5" stroke="#000" stroke-width="0.38">120W</text>
<text transform="translate(262.43,1053.80) scale(1.0707,1.03)" font-size="28.6" stroke="#000" stroke-width="0.38">-14</text>
<text transform="translate(320.80,1053.80) scale(1.0112,1.03)" font-size="28.6" stroke="#000" stroke-width="0.38">-11</text>
<text transform="translate(380.84,1053.80) scale(1.0632,1.03)" font-size="28.6" stroke="#000" stroke-width="0.38">-8</text>
<text transform="translate(435.43,1053.80) scale(1.0695,1.03)" font-size="28.6" stroke="#000" stroke-width="0.38">-5</text>
<text transform="translate(489.41,1053.80) scale(1.0854,1.03)" font-size="28.6" stroke="#000" stroke-width="0.38">-2</text>
<text transform="translate(549.62,1053.80) scale(1.1472,1.03)" font-size="28.6" stroke="#000" stroke-width="0.38">2</text>
<text transform="translate(604.37,1053.80) scale(1.1093,1.03)" font-size="28.6" stroke="#000" stroke-width="0.38">5</text>
<text transform="translate(659.04,1053.80) scale(1.1752,1.03)" font-size="28.6" stroke="#000" stroke-width="0.38">8</text>
<text transform="translate(708.75,1053.80) scale(1.0026,1.03)" font-size="28.6" stroke="#000" stroke-width="0.38">11</text>
<text transform="translate(761.66,1053.80) scale(0.9977,1.03)" font-size="28.6" stroke="#000" stroke-width="0.38">14</text>
<text transform="translate(873.25,1039.70) scale(0.9919,1.045)" font-size="29.5" stroke="#000" stroke-width="0.38">m s-1</text>
<text transform="translate(186.58,1111.20) scale(1.0143,1.03)" font-size="50.8" stroke="#000" stroke-width="0.5">7-day UWND850 with CFS forecasts</text>
<text transform="translate(2.69,1147.80) scale(1.0104,1.045)" font-size="20.6" stroke="#000" stroke-width="0.3">ncics.org/mjo</text>
<text transform="translate(669.08,1147.80) scale(1.0296,1.045)" font-size="14" stroke="#000" stroke-width="0.35">Thu 2017-06-01 1031 UTC</text>
<text transform="translate(1188.64,1148.40) scale(1.0128,1.045)" font-size="20.4" stroke="#000" stroke-width="0.3">Carl Schreck (cjschrec@ncsu.edu)</text>
<text transform="translate(1170.20,1012.60) scale(1.0624,1.045)" font-size="27" stroke="#000" stroke-width="0.35">MJO</text>
<text transform="translate(1170.26,1052.80) scale(1.0314,1.045)" font-size="27" stroke="#000" stroke-width="0.35">Low</text>
<text transform="translate(1391.02,1012.60) scale(1.0046,1.045)" font-size="27" stroke="#000" stroke-width="0.35">Kelvin x2</text>
<text transform="translate(1390.96,1052.80) scale(1.0310,1.045)" font-size="27" stroke="#000" stroke-width="0.35">ER</text>
<text transform="translate(1083.80,1090.90) scale(1.0081,1.045)" font-size="26.3" stroke="#000" stroke-width="0.35">Contours at 2, 6 m s-1</text>
<g transform="translate(548.5,167.8)"><path d="M-5.8,0.8 C-6.2,-4.2 -2.6,-8.8 2.2,-9.7 L4.1,-8.5 C1.6,-7.8 0.2,-6.6 1.2,-5.6 C4.2,-4.6 6,-2.4 5.8,-0.8 C6.2,4.2 2.6,8.8 -2.2,9.7 L-4.1,8.5 C-1.6,7.8 -0.2,6.6 -1.2,5.6 C-4.2,4.6 -6,2.4 -5.8,0.8Z" fill="#e00000" stroke="#000" stroke-width="1.3" stroke-linejoin="round"/><text x="0" y="2.9" font-size="8.4" font-weight="bold" text-anchor="middle" style="fill:#fff">E</text></g>
<g transform="translate(203,765)"><path d="M-5.8,0.8 C-6.2,-4.2 -2.6,-8.8 2.2,-9.7 L4.1,-8.5 C1.6,-7.8 0.2,-6.6 1.2,-5.6 C4.2,-4.6 6,-2.4 5.8,-0.8 C6.2,4.2 2.6,8.8 -2.2,9.7 L-4.1,8.5 C-1.6,7.8 -0.2,6.6 -1.2,5.6 C-4.2,4.6 -6,2.4 -5.8,0.8Z" fill="#e00000" stroke="#000" stroke-width="1.3" stroke-linejoin="round"/><text x="0" y="2.9" font-size="8.4" font-weight="bold" text-anchor="middle" style="fill:#fff">M</text></g>
<defs>
<clipPath id="lc"><ellipse cx="578.5" cy="582.5" rx="504" ry="512"/></clipPath>
<linearGradient id="lg" x1="0" y1="0" x2="0" y2="1"><stop offset="0" stop-color="#ffc60a"/><stop offset="1" stop-color="#f7a51c"/></linearGradient>
</defs>
<g transform="translate(0,960) scale(0.14684)">
<g clip-path="url(#lc)">
<rect x="60" y="60" width="1040" height="320" fill="url(#lg)"/>
<path d="M60,320 L165,256 L280,266 L400,298 L520,316 L620,326 L690,353 L760,330 L850,300 L960,293 L1100,300 L1100,720 L60,720Z" fill="#2f3a8e"/>
<path d="M60,420 L130,340 L200,320 L300,350 L380,372 L450,342 L520,313 L610,333 L690,356 L620,388 L550,420 L600,452 L500,520 L60,545Z" fill="#6b76aa"/>
<path d="M1100,355 L950,385 L850,405 L780,420 L730,440 L650,440 L600,455 L540,500 L400,530 L300,590 L200,620 L120,660 L60,700 L1100,720Z" fill="#6675d6"/>
<path d="M125,520 L250,478 L350,440 L450,432 L560,438 L602,458 L540,500 L400,532 L250,547 L160,540Z" fill="#9ba4e3"/>
<path d="M60,512 L125,520 L250,547 L345,562 L250,600 L150,640 L100,690 L60,700Z" fill="#3a48c3"/>
<path d="M60,705 L95,700 L170,690 L220,655 L260,625 L320,685 L350,655 L420,695 L480,620 L545,562 L590,590 L640,660 L690,685 L720,650 L750,600 L810,695 L860,615 L930,570 L1000,530 L1100,455 L1100,1120 L60,1120Z" fill="#0b1266"/>
<path d="M60,705 L95,700 L170,690 L220,655 L260,625 L320,685 L350,655 L420,695 L480,620 L545,562 L590,590 L640,660 L690,685 L720,650 L750,600 L810,695 L860,615 L930,570 L1000,530 L1100,455" fill="none" stroke="#ee1620" stroke-width="12" stroke-linejoin="round"/>
</g>
<text x="262" y="903" font-size="196" font-weight="bold" fill="#fff" style="fill:#fff" textLength="663" lengthAdjust="spacing">NCICS</text>
</g>

</svg></body></html>
